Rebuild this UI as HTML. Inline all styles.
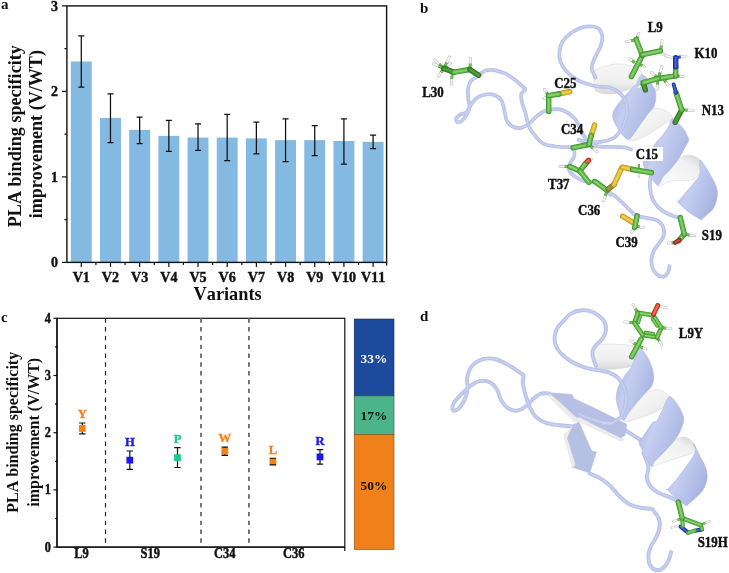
<!DOCTYPE html>
<html><head><meta charset="utf-8"><title>Figure</title>
<style>
html,body{margin:0;padding:0;background:#fff;}
body{width:729px;height:573px;overflow:hidden;}
svg{display:block;}
text{font-family:"Liberation Serif","Times New Roman",serif;font-weight:bold;fill:#111;font-kerning:none;}
</style></head><body>
<svg width="729" height="573" viewBox="0 0 729 573">
<rect width="729" height="573" fill="#fff"/>

<g id="panel-a">
<text x="1" y="9.3" font-size="15">a</text>
<rect x="70.85" y="61.47" width="20.9" height="200.93" fill="#84b9e1"/>
<rect x="100.03" y="117.90" width="20.9" height="144.50" fill="#84b9e1"/>
<rect x="129.21" y="129.87" width="20.9" height="132.53" fill="#84b9e1"/>
<rect x="158.39" y="135.86" width="20.9" height="126.54" fill="#84b9e1"/>
<rect x="187.57" y="137.57" width="20.9" height="124.83" fill="#84b9e1"/>
<rect x="216.75" y="137.57" width="20.9" height="124.83" fill="#84b9e1"/>
<rect x="245.93" y="138.42" width="20.9" height="123.97" fill="#84b9e1"/>
<rect x="275.11" y="140.13" width="20.9" height="122.26" fill="#84b9e1"/>
<rect x="304.29" y="140.13" width="20.9" height="122.26" fill="#84b9e1"/>
<rect x="333.47" y="140.99" width="20.9" height="121.41" fill="#84b9e1"/>
<rect x="362.65" y="141.84" width="20.9" height="120.56" fill="#84b9e1"/>
<path d="M81.30 87.12V35.82M78.30 87.12h6M78.30 35.82h6" stroke="#111" stroke-width="1.25" fill="none"/>
<path d="M110.48 142.70V93.96M107.48 142.70h6M107.48 93.96h6" stroke="#111" stroke-width="1.25" fill="none"/>
<path d="M139.66 143.56V117.05M136.66 143.56h6M136.66 117.05h6" stroke="#111" stroke-width="1.25" fill="none"/>
<path d="M168.84 151.25V120.47M165.84 151.25h6M165.84 120.47h6" stroke="#111" stroke-width="1.25" fill="none"/>
<path d="M198.02 150.39V123.89M195.02 150.39h6M195.02 123.89h6" stroke="#111" stroke-width="1.25" fill="none"/>
<path d="M227.20 160.65V114.48M224.20 160.65h6M224.20 114.48h6" stroke="#111" stroke-width="1.25" fill="none"/>
<path d="M256.38 153.81V122.18M253.38 153.81h6M253.38 122.18h6" stroke="#111" stroke-width="1.25" fill="none"/>
<path d="M285.56 161.51V118.76M282.56 161.51h6M282.56 118.76h6" stroke="#111" stroke-width="1.25" fill="none"/>
<path d="M314.74 155.52V125.60M311.74 155.52h6M311.74 125.60h6" stroke="#111" stroke-width="1.25" fill="none"/>
<path d="M343.92 164.07V118.76M340.92 164.07h6M340.92 118.76h6" stroke="#111" stroke-width="1.25" fill="none"/>
<path d="M373.10 148.68V135.00M370.10 148.68h6M370.10 135.00h6" stroke="#111" stroke-width="1.25" fill="none"/>
<rect x="66.9" y="5.90" width="319.70000000000005" height="256.50" fill="none" stroke="#111" stroke-width="1.4"/>
<path d="M386.6 262.4v3" stroke="#111" stroke-width="1.2"/>
<path d="M66.9 262.40h-5" stroke="#111" stroke-width="1.2"/>
<text transform="translate(57.90,267.30) scale(1,1.1)" font-size="14" text-anchor="end" style="stroke:#111;stroke-width:0.4px">0</text>
<path d="M66.9 176.90h-5" stroke="#111" stroke-width="1.2"/>
<text transform="translate(57.90,181.80) scale(1,1.1)" font-size="14" text-anchor="end" style="stroke:#111;stroke-width:0.4px">1</text>
<path d="M66.9 91.40h-5" stroke="#111" stroke-width="1.2"/>
<text transform="translate(57.90,96.30) scale(1,1.1)" font-size="14" text-anchor="end" style="stroke:#111;stroke-width:0.4px">2</text>
<path d="M66.9 5.90h-5" stroke="#111" stroke-width="1.2"/>
<text transform="translate(57.90,10.80) scale(1,1.1)" font-size="14" text-anchor="end" style="stroke:#111;stroke-width:0.4px">3</text>
<path d="M66.9 219.65h-2.5" stroke="#111" stroke-width="1.2"/>
<path d="M66.9 134.15h-2.5" stroke="#111" stroke-width="1.2"/>
<path d="M66.9 48.65h-2.5" stroke="#111" stroke-width="1.2"/>
<path d="M81.30 262.4v4.5" stroke="#111" stroke-width="1.2"/>
<text transform="translate(81.30,282.20) scale(1,1.1)" font-size="14.1" text-anchor="middle" style="stroke:#111;stroke-width:0.4px">V1</text>
<path d="M110.48 262.4v4.5" stroke="#111" stroke-width="1.2"/>
<text transform="translate(110.48,282.20) scale(1,1.1)" font-size="14.1" text-anchor="middle" style="stroke:#111;stroke-width:0.4px">V2</text>
<path d="M139.66 262.4v4.5" stroke="#111" stroke-width="1.2"/>
<text transform="translate(139.66,282.20) scale(1,1.1)" font-size="14.1" text-anchor="middle" style="stroke:#111;stroke-width:0.4px">V3</text>
<path d="M168.84 262.4v4.5" stroke="#111" stroke-width="1.2"/>
<text transform="translate(168.84,282.20) scale(1,1.1)" font-size="14.1" text-anchor="middle" style="stroke:#111;stroke-width:0.4px">V4</text>
<path d="M198.02 262.4v4.5" stroke="#111" stroke-width="1.2"/>
<text transform="translate(198.02,282.20) scale(1,1.1)" font-size="14.1" text-anchor="middle" style="stroke:#111;stroke-width:0.4px">V5</text>
<path d="M227.20 262.4v4.5" stroke="#111" stroke-width="1.2"/>
<text transform="translate(227.20,282.20) scale(1,1.1)" font-size="14.1" text-anchor="middle" style="stroke:#111;stroke-width:0.4px">V6</text>
<path d="M256.38 262.4v4.5" stroke="#111" stroke-width="1.2"/>
<text transform="translate(256.38,282.20) scale(1,1.1)" font-size="14.1" text-anchor="middle" style="stroke:#111;stroke-width:0.4px">V7</text>
<path d="M285.56 262.4v4.5" stroke="#111" stroke-width="1.2"/>
<text transform="translate(285.56,282.20) scale(1,1.1)" font-size="14.1" text-anchor="middle" style="stroke:#111;stroke-width:0.4px">V8</text>
<path d="M314.74 262.4v4.5" stroke="#111" stroke-width="1.2"/>
<text transform="translate(314.74,282.20) scale(1,1.1)" font-size="14.1" text-anchor="middle" style="stroke:#111;stroke-width:0.4px">V9</text>
<path d="M343.92 262.4v4.5" stroke="#111" stroke-width="1.2"/>
<text transform="translate(343.92,282.20) scale(1,1.1)" font-size="14.1" text-anchor="middle" style="stroke:#111;stroke-width:0.4px">V10</text>
<path d="M373.10 262.4v4.5" stroke="#111" stroke-width="1.2"/>
<text transform="translate(373.10,282.20) scale(1,1.1)" font-size="14.1" text-anchor="middle" style="stroke:#111;stroke-width:0.4px">V11</text>
<path d="M95.89 262.4v2.5" stroke="#111" stroke-width="1.2"/>
<path d="M125.07 262.4v2.5" stroke="#111" stroke-width="1.2"/>
<path d="M154.25 262.4v2.5" stroke="#111" stroke-width="1.2"/>
<path d="M183.43 262.4v2.5" stroke="#111" stroke-width="1.2"/>
<path d="M212.61 262.4v2.5" stroke="#111" stroke-width="1.2"/>
<path d="M241.79 262.4v2.5" stroke="#111" stroke-width="1.2"/>
<path d="M270.97 262.4v2.5" stroke="#111" stroke-width="1.2"/>
<path d="M300.15 262.4v2.5" stroke="#111" stroke-width="1.2"/>
<path d="M329.33 262.4v2.5" stroke="#111" stroke-width="1.2"/>
<path d="M358.51 262.4v2.5" stroke="#111" stroke-width="1.2"/>
<text x="227.6" y="300" font-size="18.3" text-anchor="middle">Variants</text>
<text transform="translate(20.5,136.2) rotate(-90)" font-size="18.1" text-anchor="middle">PLA binding specificity</text>
<text transform="translate(41.5,134.2) rotate(-90)" font-size="18.1" text-anchor="middle">improvement (V/WT)</text>
</g>
<g id="panel-c">
<text x="1" y="321.5" font-size="15">c</text>
<rect x="57.0" y="318.30" width="287.8" height="228.80" fill="none" stroke="#111" stroke-width="1.2"/>
<path d="M57.0 318.30V547.1H344.8" fill="none" stroke="#111" stroke-width="1.4"/>
<path d="M105.5 318.30V547.1" stroke="#222" stroke-width="1.2" stroke-dasharray="4.4 4.4" fill="none"/>
<path d="M201 318.30V547.1" stroke="#6a6a6a" stroke-width="1.8" stroke-dasharray="4.4 4.4" fill="none"/>
<path d="M248.9 318.30V547.1" stroke="#6a6a6a" stroke-width="1.8" stroke-dasharray="4.4 4.4" fill="none"/>
<path d="M57.0 547.10h-3.5" stroke="#111" stroke-width="1.2"/>
<text transform="translate(51.00,551.50) scale(1,1.1)" font-size="12.3" text-anchor="end" style="stroke:#111;stroke-width:0.4px">0</text>
<path d="M57.0 489.90h-3.5" stroke="#111" stroke-width="1.2"/>
<text transform="translate(51.00,494.30) scale(1,1.1)" font-size="12.3" text-anchor="end" style="stroke:#111;stroke-width:0.4px">1</text>
<path d="M57.0 432.70h-3.5" stroke="#111" stroke-width="1.2"/>
<text transform="translate(51.00,437.10) scale(1,1.1)" font-size="12.3" text-anchor="end" style="stroke:#111;stroke-width:0.4px">2</text>
<path d="M57.0 375.50h-3.5" stroke="#111" stroke-width="1.2"/>
<text transform="translate(51.00,379.90) scale(1,1.1)" font-size="12.3" text-anchor="end" style="stroke:#111;stroke-width:0.4px">3</text>
<path d="M57.0 318.30h-3.5" stroke="#111" stroke-width="1.2"/>
<text transform="translate(51.00,322.70) scale(1,1.1)" font-size="12.3" text-anchor="end" style="stroke:#111;stroke-width:0.4px">4</text>
<path d="M57.0 518.50h-2" stroke="#111" stroke-width="1.2"/>
<path d="M57.0 461.30h-2" stroke="#111" stroke-width="1.2"/>
<path d="M57.0 404.10h-2" stroke="#111" stroke-width="1.2"/>
<path d="M57.0 346.90h-2" stroke="#111" stroke-width="1.2"/>
<path d="M344.8 547.1v4" stroke="#111" stroke-width="1.2"/>
<path d="M82.3 433.84V422.98" stroke="#111" stroke-width="1.2" fill="none"/>
<rect x="78.89999999999999" y="425.01" width="6.8" height="6.8" fill="#f28118"/>
<path d="M79.1 433.84h6.4M79.1 422.98h6.4" stroke="#111" stroke-width="1.2" fill="none"/>
<text transform="translate(82.30,417.98) scale(1,1.0)" font-size="12.6" text-anchor="middle" style="fill:#f28118;stroke:#f28118;stroke-width:0.4px">Y</text>
<path d="M129.8 469.31V451.00" stroke="#111" stroke-width="1.2" fill="none"/>
<rect x="126.4" y="456.76" width="6.8" height="6.8" fill="#1a1aee"/>
<path d="M126.60000000000001 469.31h6.4M126.60000000000001 451.00h6.4" stroke="#111" stroke-width="1.2" fill="none"/>
<text transform="translate(129.80,446.00) scale(1,1.0)" font-size="12.6" text-anchor="middle" style="fill:#1a1aee;stroke:#1a1aee;stroke-width:0.4px">H</text>
<path d="M177.5 467.48V447.69" stroke="#111" stroke-width="1.2" fill="none"/>
<rect x="174.1" y="454.18" width="6.8" height="6.8" fill="#1ecb8c"/>
<path d="M174.3 467.48h6.4M174.3 447.69h6.4" stroke="#111" stroke-width="1.2" fill="none"/>
<text transform="translate(177.50,442.69) scale(1,1.0)" font-size="12.6" text-anchor="middle" style="fill:#1ecb8c;stroke:#1ecb8c;stroke-width:0.4px">P</text>
<path d="M224.8 455.35V447.11" stroke="#111" stroke-width="1.2" fill="none"/>
<rect x="221.4" y="447.83" width="6.8" height="6.8" fill="#f28118"/>
<path d="M221.60000000000002 455.35h6.4M221.60000000000002 447.11h6.4" stroke="#111" stroke-width="1.2" fill="none"/>
<text transform="translate(224.80,442.11) scale(1,1.0)" font-size="12.6" text-anchor="middle" style="fill:#f28118;stroke:#f28118;stroke-width:0.4px">W</text>
<path d="M272.9 464.90V458.27" stroke="#111" stroke-width="1.2" fill="none"/>
<rect x="269.5" y="458.19" width="6.8" height="6.8" fill="#f28118"/>
<path d="M269.7 464.90h6.4M269.7 458.27h6.4" stroke="#111" stroke-width="1.2" fill="none"/>
<text transform="translate(272.90,454.27) scale(1,1.0)" font-size="12.6" text-anchor="middle" style="fill:#f28118;stroke:#f28118;stroke-width:0.4px">L</text>
<path d="M320 464.16V449.63" stroke="#111" stroke-width="1.2" fill="none"/>
<rect x="316.6" y="453.50" width="6.8" height="6.8" fill="#1a1aee"/>
<path d="M316.8 464.16h6.4M316.8 449.63h6.4" stroke="#111" stroke-width="1.2" fill="none"/>
<text transform="translate(320.00,444.63) scale(1,1.0)" font-size="12.6" text-anchor="middle" style="fill:#1a1aee;stroke:#1a1aee;stroke-width:0.4px">R</text>
<text transform="translate(81.50,558.40) scale(1,1.1)" font-size="12.5" text-anchor="middle" style="stroke:#111;stroke-width:0.4px">L9</text>
<text transform="translate(150.20,558.40) scale(1,1.1)" font-size="12.5" text-anchor="middle" style="stroke:#111;stroke-width:0.4px">S19</text>
<text transform="translate(224.80,558.40) scale(1,1.1)" font-size="12.5" text-anchor="middle" style="stroke:#111;stroke-width:0.4px">C34</text>
<text transform="translate(293.80,558.40) scale(1,1.1)" font-size="12.5" text-anchor="middle" style="stroke:#111;stroke-width:0.4px">C36</text>
<text transform="translate(18.1,432.3) rotate(-90)" font-size="16" text-anchor="middle">PLA binding specificity</text>
<text transform="translate(38.6,432.3) rotate(-90)" font-size="16" text-anchor="middle">improvement (V/WT)</text>
<rect x="354.2" y="319" width="39.8" height="76.9" fill="#1c4a9c" stroke="#1a2a50" stroke-width="0.6"/>
<rect x="354.2" y="395.9" width="39.8" height="38.5" fill="#4cb48a" stroke="#2c5a46" stroke-width="0.6"/>
<rect x="354.2" y="434.4" width="39.8" height="115.1" fill="#f08019" stroke="#7a4a1a" stroke-width="0.6"/>
<text x="374" y="363" font-size="13.4" text-anchor="middle" style="fill:#fff">33%</text>
<text x="374" y="420.3" font-size="13.4" text-anchor="middle">17%</text>
<text x="374" y="490.3" font-size="13.4" text-anchor="middle">50%</text>
</g>
<g id="panel-b">
<text x="420" y="12.5" font-size="15">b</text>
<defs><linearGradient id="gw1" x1="0" y1="0" x2="0" y2="1"><stop offset="0" stop-color="#f7f7f7"/><stop offset="0.6" stop-color="#efefef"/><stop offset="1" stop-color="#d9d9d9"/></linearGradient><linearGradient id="gw2" x1="0" y1="0" x2="1" y2="1"><stop offset="0" stop-color="#fafafa"/><stop offset="0.6" stop-color="#f0f0f0"/><stop offset="1" stop-color="#d6d6d6"/></linearGradient><linearGradient id="gw3" x1="0" y1="1" x2="1" y2="0"><stop offset="0" stop-color="#fbfbfb"/><stop offset="0.7" stop-color="#f1f1f1"/><stop offset="1" stop-color="#cfcfcf"/></linearGradient><linearGradient id="gb1" x1="0" y1="0.2" x2="1" y2="0.8"><stop offset="0" stop-color="#a6b2df"/><stop offset="0.35" stop-color="#c6cef0"/><stop offset="0.7" stop-color="#b3bee8"/><stop offset="1" stop-color="#a0addb"/></linearGradient></defs>
<path d="M593.2 72.3C594.5 70.0 597.9 68.8 601.5 67.4C605.0 66.0 610.2 64.5 614.6 64.1C619.0 63.7 624.0 64.1 627.8 64.9C631.6 65.8 635.3 67.5 637.7 69.1C640.0 70.6 642.1 71.4 641.8 74.0C641.5 76.6 638.1 82.2 636.0 84.7C634.0 87.2 632.5 87.4 629.4 88.8C626.4 90.2 622.0 92.1 617.9 92.9C613.8 93.7 608.5 94.2 604.8 93.7C601.0 93.3 597.5 92.5 595.7 90.5C593.9 88.4 594.5 84.4 594.1 81.4C593.6 78.4 592.0 74.7 593.2 72.3Z" fill="url(#gw1)" stroke="#d0d0d0" stroke-width="0.5" opacity="1"/>
<path d="M477.9 76.3C476.7 77.1 472.7 78.8 471.1 80.9C469.4 82.9 468.6 85.8 468.1 88.8C467.7 91.8 468.1 95.8 468.3 99.0C468.6 102.2 469.8 105.4 469.5 108.1C469.2 110.7 467.8 112.8 466.5 114.9C465.3 117.0 463.5 119.4 462.0 120.6C460.5 121.8 458.4 122.4 457.4 122.2C456.5 121.9 455.9 120.2 456.3 119.0C456.7 117.8 458.0 116.0 459.7 114.9C461.4 113.8 464.6 113.9 466.5 112.2C468.4 110.5 469.4 107.1 471.1 104.7C472.8 102.3 474.3 99.6 476.7 97.9C479.2 96.2 482.8 94.9 485.8 94.5C488.8 94.0 492.3 94.2 494.9 95.2C497.5 96.1 499.7 97.6 501.3 100.1C502.8 102.7 503.5 107.0 504.4 110.4C505.3 113.8 505.5 117.9 506.7 120.6C507.9 123.2 509.7 125.0 511.9 126.2C514.1 127.5 517.1 128.4 519.9 128.1C522.6 127.7 525.8 125.8 528.5 124.0C531.1 122.2 533.4 119.1 535.8 117.2C538.1 115.2 540.4 113.4 542.6 112.2C544.7 111.0 546.0 110.4 548.7 109.9C551.3 109.4 555.3 108.8 558.4 109.2C561.6 109.7 564.7 110.9 567.5 112.6C570.4 114.3 573.4 116.8 575.5 119.4C577.6 122.1 578.4 125.5 580.0 128.5C581.6 131.5 583.0 135.0 585.0 137.6C587.0 140.2 589.4 142.8 592.2 144.3C595.0 145.8 598.3 146.4 602.1 146.8C605.9 147.2 611.4 146.7 615.2 146.8C619.0 146.9 622.4 147.1 625.0 147.5C627.6 147.9 630.0 149.2 631.0 149.5" fill="none" stroke="#b6bfe7" stroke-width="3.7" stroke-linecap="round" stroke-linejoin="round" opacity="1"/><path d="M477.9 76.3C476.7 77.1 472.7 78.8 471.1 80.9C469.4 82.9 468.6 85.8 468.1 88.8C467.7 91.8 468.1 95.8 468.3 99.0C468.6 102.2 469.8 105.4 469.5 108.1C469.2 110.7 467.8 112.8 466.5 114.9C465.3 117.0 463.5 119.4 462.0 120.6C460.5 121.8 458.4 122.4 457.4 122.2C456.5 121.9 455.9 120.2 456.3 119.0C456.7 117.8 458.0 116.0 459.7 114.9C461.4 113.8 464.6 113.9 466.5 112.2C468.4 110.5 469.4 107.1 471.1 104.7C472.8 102.3 474.3 99.6 476.7 97.9C479.2 96.2 482.8 94.9 485.8 94.5C488.8 94.0 492.3 94.2 494.9 95.2C497.5 96.1 499.7 97.6 501.3 100.1C502.8 102.7 503.5 107.0 504.4 110.4C505.3 113.8 505.5 117.9 506.7 120.6C507.9 123.2 509.7 125.0 511.9 126.2C514.1 127.5 517.1 128.4 519.9 128.1C522.6 127.7 525.8 125.8 528.5 124.0C531.1 122.2 533.4 119.1 535.8 117.2C538.1 115.2 540.4 113.4 542.6 112.2C544.7 111.0 546.0 110.4 548.7 109.9C551.3 109.4 555.3 108.8 558.4 109.2C561.6 109.7 564.7 110.9 567.5 112.6C570.4 114.3 573.4 116.8 575.5 119.4C577.6 122.1 578.4 125.5 580.0 128.5C581.6 131.5 583.0 135.0 585.0 137.6C587.0 140.2 589.4 142.8 592.2 144.3C595.0 145.8 598.3 146.4 602.1 146.8C605.9 147.2 611.4 146.7 615.2 146.8C619.0 146.9 622.4 147.1 625.0 147.5C627.6 147.9 630.0 149.2 631.0 149.5" fill="none" stroke="#bdc6ea" stroke-width="2.44" stroke-linecap="round" stroke-linejoin="round"/><path d="M477.9 76.3C476.7 77.1 472.7 78.8 471.1 80.9C469.4 82.9 468.6 85.8 468.1 88.8C467.7 91.8 468.1 95.8 468.3 99.0C468.6 102.2 469.8 105.4 469.5 108.1C469.2 110.7 467.8 112.8 466.5 114.9C465.3 117.0 463.5 119.4 462.0 120.6C460.5 121.8 458.4 122.4 457.4 122.2C456.5 121.9 455.9 120.2 456.3 119.0C456.7 117.8 458.0 116.0 459.7 114.9C461.4 113.8 464.6 113.9 466.5 112.2C468.4 110.5 469.4 107.1 471.1 104.7C472.8 102.3 474.3 99.6 476.7 97.9C479.2 96.2 482.8 94.9 485.8 94.5C488.8 94.0 492.3 94.2 494.9 95.2C497.5 96.1 499.7 97.6 501.3 100.1C502.8 102.7 503.5 107.0 504.4 110.4C505.3 113.8 505.5 117.9 506.7 120.6C507.9 123.2 509.7 125.0 511.9 126.2C514.1 127.5 517.1 128.4 519.9 128.1C522.6 127.7 525.8 125.8 528.5 124.0C531.1 122.2 533.4 119.1 535.8 117.2C538.1 115.2 540.4 113.4 542.6 112.2C544.7 111.0 546.0 110.4 548.7 109.9C551.3 109.4 555.3 108.8 558.4 109.2C561.6 109.7 564.7 110.9 567.5 112.6C570.4 114.3 573.4 116.8 575.5 119.4C577.6 122.1 578.4 125.5 580.0 128.5C581.6 131.5 583.0 135.0 585.0 137.6C587.0 140.2 589.4 142.8 592.2 144.3C595.0 145.8 598.3 146.4 602.1 146.8C605.9 147.2 611.4 146.7 615.2 146.8C619.0 146.9 622.4 147.1 625.0 147.5C627.6 147.9 630.0 149.2 631.0 149.5" fill="none" stroke="#cad2f0" stroke-width="1.11" stroke-linecap="round" stroke-linejoin="round"/>
<path d="M478.4 74.9C479.7 74.2 483.2 71.2 485.8 70.5C488.4 69.7 490.8 69.6 494.1 70.1C497.4 70.7 502.0 72.0 505.6 73.7C509.2 75.4 512.6 78.1 515.5 80.3C518.4 82.5 521.2 85.4 522.9 86.9C524.5 88.4 525.6 88.1 525.3 89.4C525.1 90.6 521.8 92.1 521.2 94.3C520.7 96.5 521.4 99.5 522.1 102.6C522.7 105.6 524.3 108.6 525.3 112.4C526.4 116.3 527.3 122.0 528.6 125.6C530.0 129.2 531.3 130.9 533.6 133.8C535.9 136.8 539.2 141.2 542.6 143.3C545.9 145.3 549.7 145.6 553.9 146.2C558.1 146.9 563.4 147.1 567.5 147.1C571.7 147.2 577.0 146.7 578.9 146.7" fill="none" stroke="#b6bfe7" stroke-width="3.7" stroke-linecap="round" stroke-linejoin="round" opacity="1"/><path d="M478.4 74.9C479.7 74.2 483.2 71.2 485.8 70.5C488.4 69.7 490.8 69.6 494.1 70.1C497.4 70.7 502.0 72.0 505.6 73.7C509.2 75.4 512.6 78.1 515.5 80.3C518.4 82.5 521.2 85.4 522.9 86.9C524.5 88.4 525.6 88.1 525.3 89.4C525.1 90.6 521.8 92.1 521.2 94.3C520.7 96.5 521.4 99.5 522.1 102.6C522.7 105.6 524.3 108.6 525.3 112.4C526.4 116.3 527.3 122.0 528.6 125.6C530.0 129.2 531.3 130.9 533.6 133.8C535.9 136.8 539.2 141.2 542.6 143.3C545.9 145.3 549.7 145.6 553.9 146.2C558.1 146.9 563.4 147.1 567.5 147.1C571.7 147.2 577.0 146.7 578.9 146.7" fill="none" stroke="#bdc6ea" stroke-width="2.44" stroke-linecap="round" stroke-linejoin="round"/><path d="M478.4 74.9C479.7 74.2 483.2 71.2 485.8 70.5C488.4 69.7 490.8 69.6 494.1 70.1C497.4 70.7 502.0 72.0 505.6 73.7C509.2 75.4 512.6 78.1 515.5 80.3C518.4 82.5 521.2 85.4 522.9 86.9C524.5 88.4 525.6 88.1 525.3 89.4C525.1 90.6 521.8 92.1 521.2 94.3C520.7 96.5 521.4 99.5 522.1 102.6C522.7 105.6 524.3 108.6 525.3 112.4C526.4 116.3 527.3 122.0 528.6 125.6C530.0 129.2 531.3 130.9 533.6 133.8C535.9 136.8 539.2 141.2 542.6 143.3C545.9 145.3 549.7 145.6 553.9 146.2C558.1 146.9 563.4 147.1 567.5 147.1C571.7 147.2 577.0 146.7 578.9 146.7" fill="none" stroke="#cad2f0" stroke-width="1.11" stroke-linecap="round" stroke-linejoin="round"/>
<path d="M574.2 148.4C574.2 149.7 574.9 153.7 574.2 156.3C573.4 159.0 570.4 161.8 569.7 164.3C568.9 166.7 568.7 169.0 569.7 171.1C570.6 173.1 572.9 175.0 575.3 176.7C577.8 178.4 581.0 180.3 584.4 181.3C587.8 182.2 592.0 180.9 595.8 182.4C599.5 183.9 604.6 188.3 607.1 190.4C609.6 192.4 610.1 194.6 610.5 194.9C610.9 195.2 607.7 191.0 609.4 192.0C611.1 193.0 617.3 198.0 620.7 201.1C624.1 204.1 627.2 207.7 629.8 210.1C632.5 212.6 633.6 214.5 636.6 215.8C639.7 217.1 644.6 217.3 648.0 218.1C651.4 218.8 654.6 219.0 657.1 220.4C659.5 221.7 661.6 223.6 662.7 226.0C663.9 228.5 664.4 232.3 663.9 235.1C663.3 237.9 661.0 240.4 659.3 243.1C657.6 245.7 655.0 248.0 653.7 251.0C652.3 254.0 651.4 258.0 651.4 261.2C651.4 264.4 652.3 267.8 653.7 270.3C655.0 272.7 657.4 275.0 659.3 276.0C661.2 276.9 663.5 276.7 665.0 276.0C666.5 275.2 667.6 273.1 668.4 271.4C669.2 269.8 669.3 267.1 669.5 266.2" fill="none" stroke="#b6bfe7" stroke-width="3.7" stroke-linecap="round" stroke-linejoin="round" opacity="1"/><path d="M574.2 148.4C574.2 149.7 574.9 153.7 574.2 156.3C573.4 159.0 570.4 161.8 569.7 164.3C568.9 166.7 568.7 169.0 569.7 171.1C570.6 173.1 572.9 175.0 575.3 176.7C577.8 178.4 581.0 180.3 584.4 181.3C587.8 182.2 592.0 180.9 595.8 182.4C599.5 183.9 604.6 188.3 607.1 190.4C609.6 192.4 610.1 194.6 610.5 194.9C610.9 195.2 607.7 191.0 609.4 192.0C611.1 193.0 617.3 198.0 620.7 201.1C624.1 204.1 627.2 207.7 629.8 210.1C632.5 212.6 633.6 214.5 636.6 215.8C639.7 217.1 644.6 217.3 648.0 218.1C651.4 218.8 654.6 219.0 657.1 220.4C659.5 221.7 661.6 223.6 662.7 226.0C663.9 228.5 664.4 232.3 663.9 235.1C663.3 237.9 661.0 240.4 659.3 243.1C657.6 245.7 655.0 248.0 653.7 251.0C652.3 254.0 651.4 258.0 651.4 261.2C651.4 264.4 652.3 267.8 653.7 270.3C655.0 272.7 657.4 275.0 659.3 276.0C661.2 276.9 663.5 276.7 665.0 276.0C666.5 275.2 667.6 273.1 668.4 271.4C669.2 269.8 669.3 267.1 669.5 266.2" fill="none" stroke="#bdc6ea" stroke-width="2.44" stroke-linecap="round" stroke-linejoin="round"/><path d="M574.2 148.4C574.2 149.7 574.9 153.7 574.2 156.3C573.4 159.0 570.4 161.8 569.7 164.3C568.9 166.7 568.7 169.0 569.7 171.1C570.6 173.1 572.9 175.0 575.3 176.7C577.8 178.4 581.0 180.3 584.4 181.3C587.8 182.2 592.0 180.9 595.8 182.4C599.5 183.9 604.6 188.3 607.1 190.4C609.6 192.4 610.1 194.6 610.5 194.9C610.9 195.2 607.7 191.0 609.4 192.0C611.1 193.0 617.3 198.0 620.7 201.1C624.1 204.1 627.2 207.7 629.8 210.1C632.5 212.6 633.6 214.5 636.6 215.8C639.7 217.1 644.6 217.3 648.0 218.1C651.4 218.8 654.6 219.0 657.1 220.4C659.5 221.7 661.6 223.6 662.7 226.0C663.9 228.5 664.4 232.3 663.9 235.1C663.3 237.9 661.0 240.4 659.3 243.1C657.6 245.7 655.0 248.0 653.7 251.0C652.3 254.0 651.4 258.0 651.4 261.2C651.4 264.4 652.3 267.8 653.7 270.3C655.0 272.7 657.4 275.0 659.3 276.0C661.2 276.9 663.5 276.7 665.0 276.0C666.5 275.2 667.6 273.1 668.4 271.4C669.2 269.8 669.3 267.1 669.5 266.2" fill="none" stroke="#cad2f0" stroke-width="1.11" stroke-linecap="round" stroke-linejoin="round"/>
<path d="M653.4 172.5C652.9 173.6 650.7 176.6 650.2 179.4C649.6 182.2 649.7 186.0 650.2 189.3C650.6 192.6 651.2 196.1 652.6 199.1C654.0 202.2 656.1 205.0 658.4 207.4C660.7 209.7 663.9 211.6 666.6 213.1C669.4 214.6 672.4 215.6 674.8 216.4C677.3 217.2 680.3 217.8 681.4 218.1" fill="none" stroke="#b6bfe7" stroke-width="3.7" stroke-linecap="round" stroke-linejoin="round" opacity="1"/><path d="M653.4 172.5C652.9 173.6 650.7 176.6 650.2 179.4C649.6 182.2 649.7 186.0 650.2 189.3C650.6 192.6 651.2 196.1 652.6 199.1C654.0 202.2 656.1 205.0 658.4 207.4C660.7 209.7 663.9 211.6 666.6 213.1C669.4 214.6 672.4 215.6 674.8 216.4C677.3 217.2 680.3 217.8 681.4 218.1" fill="none" stroke="#bdc6ea" stroke-width="2.44" stroke-linecap="round" stroke-linejoin="round"/><path d="M653.4 172.5C652.9 173.6 650.7 176.6 650.2 179.4C649.6 182.2 649.7 186.0 650.2 189.3C650.6 192.6 651.2 196.1 652.6 199.1C654.0 202.2 656.1 205.0 658.4 207.4C660.7 209.7 663.9 211.6 666.6 213.1C669.4 214.6 672.4 215.6 674.8 216.4C677.3 217.2 680.3 217.8 681.4 218.1" fill="none" stroke="#cad2f0" stroke-width="1.11" stroke-linecap="round" stroke-linejoin="round"/>
<path d="M627.0 139.0C627.2 139.6 630.1 140.9 632.7 140.7C635.3 140.4 639.0 139.0 642.6 137.4C646.2 135.7 650.6 133.0 654.1 130.8C657.7 128.6 661.0 126.3 664.0 124.2C667.0 122.1 671.4 120.4 672.2 118.4C673.1 116.5 670.6 114.2 669.0 112.7C667.3 111.2 664.8 110.1 662.4 109.4C659.9 108.7 656.6 107.7 654.1 108.6C651.7 109.4 650.0 111.4 647.6 114.3C645.1 117.2 642.1 122.0 639.3 125.8C636.6 129.7 633.1 135.2 631.1 137.4C629.0 139.6 626.7 138.5 627.0 139.0Z" fill="url(#gw2)" stroke="#d4d4d4" stroke-width="0.5" opacity="1"/>
<path d="M658.3 185.2C658.5 183.8 661.4 179.1 663.2 176.6C665.0 174.2 667.3 172.8 669.3 170.5C671.3 168.3 673.4 165.4 675.4 163.2C677.4 161.0 679.5 158.4 681.5 157.1C683.5 155.8 685.4 155.4 687.6 155.3C689.9 155.2 692.9 155.7 694.9 156.5C697.0 157.3 698.8 158.4 699.8 160.1C700.8 161.9 701.1 164.5 701.1 166.9C701.1 169.2 701.1 172.2 699.8 174.2C698.6 176.2 696.0 178.0 693.7 179.1C691.5 180.2 689.2 180.7 686.4 180.9C683.5 181.1 679.7 180.1 676.6 180.3C673.6 180.5 670.5 181.3 668.1 182.1C665.6 182.9 663.6 184.7 662.0 185.2C660.4 185.7 658.1 186.6 658.3 185.2Z" fill="url(#gw3)" stroke="#d4d4d4" stroke-width="0.5" opacity="1"/>
<path d="M636.0 84.7C637.5 82.6 639.3 75.1 641.8 74.8C644.3 74.5 648.5 80.0 650.8 83.0C653.2 86.1 655.2 89.1 655.8 92.9C656.3 96.8 655.5 102.5 654.1 106.1C652.8 109.7 650.0 111.0 647.6 114.3C645.1 117.6 642.1 122.0 639.3 125.8C636.6 129.7 633.1 135.2 631.1 137.4C629.0 139.6 628.8 139.8 627.0 139.0C625.2 138.2 622.6 135.4 620.4 132.4C618.2 129.4 615.0 124.2 613.8 120.9C612.6 117.6 612.3 115.4 613.0 112.7C613.7 109.9 615.7 107.5 617.9 104.4C620.1 101.4 623.7 97.4 626.2 94.6C628.6 91.7 631.1 88.8 632.7 87.2C634.4 85.5 634.5 86.7 636.0 84.7Z" fill="url(#gb1)" stroke="#a9b4de" stroke-width="0.5" opacity="1"/>
<path d="M595.7 77.5C595.0 75.8 591.7 70.9 591.6 67.6C591.5 64.3 593.4 61.3 594.9 57.7C596.4 54.2 599.4 49.8 600.7 46.2C601.9 42.6 602.6 39.2 602.3 36.3C602.0 33.5 600.7 30.6 599.0 28.9C597.4 27.3 595.2 26.7 592.4 26.5C589.7 26.2 586.1 26.2 582.6 27.3C579.0 28.4 574.3 30.7 571.0 33.0C567.7 35.4 564.7 38.3 562.8 41.3C560.9 44.3 559.9 47.9 559.5 51.2C559.1 54.4 559.2 57.7 560.3 61.0C561.4 64.3 563.5 67.9 566.1 70.9C568.7 73.9 572.7 77.0 576.0 79.1C579.3 81.2 582.3 82.4 585.8 83.6C589.4 84.8 593.5 85.9 597.3 86.5C601.2 87.1 605.3 86.4 608.9 87.3C612.4 88.3 616.1 90.3 618.7 92.3C621.4 94.2 623.2 96.7 624.5 98.8C625.8 101.0 626.1 103.0 626.5 105.3C626.9 107.6 627.3 109.8 627.0 112.7C626.6 115.6 625.6 119.5 624.5 122.6C623.4 125.6 622.0 128.3 620.4 130.8C618.7 133.3 617.0 135.7 614.6 137.4C612.3 139.0 609.7 139.8 606.4 140.7C603.1 141.5 598.4 142.2 594.9 142.3C591.3 142.4 587.7 141.9 585.0 141.5C582.3 141.1 579.5 140.1 578.4 139.8" fill="none" stroke="#b6bfe7" stroke-width="3.7" stroke-linecap="round" stroke-linejoin="round" opacity="1"/><path d="M595.7 77.5C595.0 75.8 591.7 70.9 591.6 67.6C591.5 64.3 593.4 61.3 594.9 57.7C596.4 54.2 599.4 49.8 600.7 46.2C601.9 42.6 602.6 39.2 602.3 36.3C602.0 33.5 600.7 30.6 599.0 28.9C597.4 27.3 595.2 26.7 592.4 26.5C589.7 26.2 586.1 26.2 582.6 27.3C579.0 28.4 574.3 30.7 571.0 33.0C567.7 35.4 564.7 38.3 562.8 41.3C560.9 44.3 559.9 47.9 559.5 51.2C559.1 54.4 559.2 57.7 560.3 61.0C561.4 64.3 563.5 67.9 566.1 70.9C568.7 73.9 572.7 77.0 576.0 79.1C579.3 81.2 582.3 82.4 585.8 83.6C589.4 84.8 593.5 85.9 597.3 86.5C601.2 87.1 605.3 86.4 608.9 87.3C612.4 88.3 616.1 90.3 618.7 92.3C621.4 94.2 623.2 96.7 624.5 98.8C625.8 101.0 626.1 103.0 626.5 105.3C626.9 107.6 627.3 109.8 627.0 112.7C626.6 115.6 625.6 119.5 624.5 122.6C623.4 125.6 622.0 128.3 620.4 130.8C618.7 133.3 617.0 135.7 614.6 137.4C612.3 139.0 609.7 139.8 606.4 140.7C603.1 141.5 598.4 142.2 594.9 142.3C591.3 142.4 587.7 141.9 585.0 141.5C582.3 141.1 579.5 140.1 578.4 139.8" fill="none" stroke="#bdc6ea" stroke-width="2.44" stroke-linecap="round" stroke-linejoin="round"/><path d="M595.7 77.5C595.0 75.8 591.7 70.9 591.6 67.6C591.5 64.3 593.4 61.3 594.9 57.7C596.4 54.2 599.4 49.8 600.7 46.2C601.9 42.6 602.6 39.2 602.3 36.3C602.0 33.5 600.7 30.6 599.0 28.9C597.4 27.3 595.2 26.7 592.4 26.5C589.7 26.2 586.1 26.2 582.6 27.3C579.0 28.4 574.3 30.7 571.0 33.0C567.7 35.4 564.7 38.3 562.8 41.3C560.9 44.3 559.9 47.9 559.5 51.2C559.1 54.4 559.2 57.7 560.3 61.0C561.4 64.3 563.5 67.9 566.1 70.9C568.7 73.9 572.7 77.0 576.0 79.1C579.3 81.2 582.3 82.4 585.8 83.6C589.4 84.8 593.5 85.9 597.3 86.5C601.2 87.1 605.3 86.4 608.9 87.3C612.4 88.3 616.1 90.3 618.7 92.3C621.4 94.2 623.2 96.7 624.5 98.8C625.8 101.0 626.1 103.0 626.5 105.3C626.9 107.6 627.3 109.8 627.0 112.7C626.6 115.6 625.6 119.5 624.5 122.6C623.4 125.6 622.0 128.3 620.4 130.8C618.7 133.3 617.0 135.7 614.6 137.4C612.3 139.0 609.7 139.8 606.4 140.7C603.1 141.5 598.4 142.2 594.9 142.3C591.3 142.4 587.7 141.9 585.0 141.5C582.3 141.1 579.5 140.1 578.4 139.8" fill="none" stroke="#cad2f0" stroke-width="1.11" stroke-linecap="round" stroke-linejoin="round"/>
<path d="M672.2 118.5C673.6 118.0 675.2 120.8 677.1 122.5C679.0 124.3 681.9 126.7 683.7 129.1C685.5 131.6 687.0 135.6 687.9 137.4C688.7 139.2 689.3 138.4 688.8 140.0C688.4 141.6 686.6 144.7 685.2 147.3C683.8 150.0 681.9 153.2 680.3 155.9C678.7 158.5 677.2 160.8 675.4 163.2C673.6 165.6 671.3 168.3 669.3 170.5C667.3 172.8 665.0 174.2 663.2 176.6C661.4 179.1 659.9 184.5 658.3 185.2C656.7 185.9 655.5 183.3 653.4 180.9C651.4 178.5 647.8 173.5 646.1 170.5C644.4 167.6 643.1 165.6 643.1 163.2C643.1 160.8 644.6 158.4 646.1 155.9C647.6 153.3 650.4 150.4 652.2 147.9C654.0 145.5 655.4 143.4 657.1 141.2C658.8 139.1 660.6 137.7 662.6 135.1C664.6 132.6 667.3 128.6 668.9 125.8C670.5 123.1 670.9 119.1 672.2 118.5Z" fill="url(#gb1)" stroke="#a9b4de" stroke-width="0.5" opacity="1"/>
<path d="M699.8 160.1C700.6 158.7 702.9 163.1 704.7 165.6C706.5 168.2 709.0 172.2 710.8 175.4C712.6 178.7 714.6 182.3 715.7 185.2C716.8 188.0 717.4 189.9 717.5 192.5C717.6 195.1 717.0 198.4 716.3 201.1C715.6 203.7 714.7 206.2 713.3 208.4C711.8 210.5 709.8 212.1 707.8 214.0C705.8 215.9 702.3 218.8 701.2 219.7C700.1 220.7 702.8 220.7 701.2 219.7C699.5 218.8 694.3 216.0 691.3 214.0C688.3 211.9 685.3 209.5 683.1 207.4C680.9 205.3 678.7 202.6 677.9 201.7C677.0 200.7 677.0 202.6 677.9 201.7C678.7 200.7 680.9 198.3 682.7 196.2C684.6 194.0 686.8 191.3 688.8 188.8C690.9 186.4 693.1 184.0 694.9 181.5C696.8 179.1 699.0 177.7 699.8 174.2C700.6 170.6 699.0 161.6 699.8 160.1Z" fill="url(#gb1)" stroke="#a9b4de" stroke-width="0.5" opacity="1"/>
<path d="M470.2 63.8L470.4 58.2" stroke="#a8a8a8" stroke-width="2.8" stroke-linecap="round" fill="none"/><path d="M470.2 63.8L470.4 58.2" stroke="#eeeeee" stroke-width="2.13" stroke-linecap="round" fill="none"/><path d="M470.2 63.8L470.4 58.2" stroke="#ffffff" stroke-width="0.84" stroke-linecap="round" fill="none" opacity="0.75"/><path d="M469.9 69.5L470.2 63.8" stroke="#3f8f2e" stroke-width="2.8" stroke-linecap="butt" fill="none"/><path d="M469.9 69.5L470.2 63.8" stroke="#5db446" stroke-width="2.13" stroke-linecap="butt" fill="none"/><path d="M469.9 69.5L470.2 63.8" stroke="#9adf7c" stroke-width="0.84" stroke-linecap="butt" fill="none" opacity="0.75"/>
<path d="M472.4 72.6L474.5 74.5" stroke="#a8a8a8" stroke-width="2.8" stroke-linecap="round" fill="none"/><path d="M472.4 72.6L474.5 74.5" stroke="#eeeeee" stroke-width="2.13" stroke-linecap="round" fill="none"/><path d="M472.4 72.6L474.5 74.5" stroke="#ffffff" stroke-width="0.84" stroke-linecap="round" fill="none" opacity="0.75"/><path d="M470.4 70.6L472.4 72.6" stroke="#3f8f2e" stroke-width="2.8" stroke-linecap="butt" fill="none"/><path d="M470.4 70.6L472.4 72.6" stroke="#5db446" stroke-width="2.13" stroke-linecap="butt" fill="none"/><path d="M470.4 70.6L472.4 72.6" stroke="#9adf7c" stroke-width="0.84" stroke-linecap="butt" fill="none" opacity="0.75"/>
<path d="M451.8 78.9L451.3 84.3" stroke="#a8a8a8" stroke-width="2.8" stroke-linecap="round" fill="none"/><path d="M451.8 78.9L451.3 84.3" stroke="#eeeeee" stroke-width="2.13" stroke-linecap="round" fill="none"/><path d="M451.8 78.9L451.3 84.3" stroke="#ffffff" stroke-width="0.84" stroke-linecap="round" fill="none" opacity="0.75"/><path d="M452.2 73.6L451.8 78.9" stroke="#3f8f2e" stroke-width="2.8" stroke-linecap="butt" fill="none"/><path d="M452.2 73.6L451.8 78.9" stroke="#5db446" stroke-width="2.13" stroke-linecap="butt" fill="none"/><path d="M452.2 73.6L451.8 78.9" stroke="#9adf7c" stroke-width="0.84" stroke-linecap="butt" fill="none" opacity="0.75"/>
<path d="M439.3 64.2L434.8 60.0" stroke="#a8a8a8" stroke-width="2.8" stroke-linecap="round" fill="none"/><path d="M439.3 64.2L434.8 60.0" stroke="#eeeeee" stroke-width="2.13" stroke-linecap="round" fill="none"/><path d="M439.3 64.2L434.8 60.0" stroke="#ffffff" stroke-width="0.84" stroke-linecap="round" fill="none" opacity="0.75"/><path d="M443.8 68.4L439.3 64.2" stroke="#3f8f2e" stroke-width="2.8" stroke-linecap="butt" fill="none"/><path d="M443.8 68.4L439.3 64.2" stroke="#5db446" stroke-width="2.13" stroke-linecap="butt" fill="none"/><path d="M443.8 68.4L439.3 64.2" stroke="#9adf7c" stroke-width="0.84" stroke-linecap="butt" fill="none" opacity="0.75"/>
<path d="M438.5 66.1L433.2 63.8" stroke="#a8a8a8" stroke-width="2.8" stroke-linecap="round" fill="none"/><path d="M438.5 66.1L433.2 63.8" stroke="#eeeeee" stroke-width="2.13" stroke-linecap="round" fill="none"/><path d="M438.5 66.1L433.2 63.8" stroke="#ffffff" stroke-width="0.84" stroke-linecap="round" fill="none" opacity="0.75"/><path d="M443.8 68.4L438.5 66.1" stroke="#3f8f2e" stroke-width="2.8" stroke-linecap="butt" fill="none"/><path d="M443.8 68.4L438.5 66.1" stroke="#5db446" stroke-width="2.13" stroke-linecap="butt" fill="none"/><path d="M443.8 68.4L438.5 66.1" stroke="#9adf7c" stroke-width="0.84" stroke-linecap="butt" fill="none" opacity="0.75"/>
<path d="M441.2 72.3L438.6 76.3" stroke="#a8a8a8" stroke-width="2.8" stroke-linecap="round" fill="none"/><path d="M441.2 72.3L438.6 76.3" stroke="#eeeeee" stroke-width="2.13" stroke-linecap="round" fill="none"/><path d="M441.2 72.3L438.6 76.3" stroke="#ffffff" stroke-width="0.84" stroke-linecap="round" fill="none" opacity="0.75"/><path d="M443.8 68.4L441.2 72.3" stroke="#3f8f2e" stroke-width="2.8" stroke-linecap="butt" fill="none"/><path d="M443.8 68.4L441.2 72.3" stroke="#5db446" stroke-width="2.13" stroke-linecap="butt" fill="none"/><path d="M443.8 68.4L441.2 72.3" stroke="#9adf7c" stroke-width="0.84" stroke-linecap="butt" fill="none" opacity="0.75"/>
<path d="M446.7 62.7L449.5 57.0" stroke="#a8a8a8" stroke-width="2.8" stroke-linecap="round" fill="none"/><path d="M446.7 62.7L449.5 57.0" stroke="#eeeeee" stroke-width="2.13" stroke-linecap="round" fill="none"/><path d="M446.7 62.7L449.5 57.0" stroke="#ffffff" stroke-width="0.84" stroke-linecap="round" fill="none" opacity="0.75"/><path d="M443.8 68.4L446.7 62.7" stroke="#3f8f2e" stroke-width="2.8" stroke-linecap="butt" fill="none"/><path d="M443.8 68.4L446.7 62.7" stroke="#5db446" stroke-width="2.13" stroke-linecap="butt" fill="none"/><path d="M443.8 68.4L446.7 62.7" stroke="#9adf7c" stroke-width="0.84" stroke-linecap="butt" fill="none" opacity="0.75"/>
<path d="M447.2 65.9L450.6 63.4" stroke="#a8a8a8" stroke-width="2.8" stroke-linecap="round" fill="none"/><path d="M447.2 65.9L450.6 63.4" stroke="#eeeeee" stroke-width="2.13" stroke-linecap="round" fill="none"/><path d="M447.2 65.9L450.6 63.4" stroke="#ffffff" stroke-width="0.84" stroke-linecap="round" fill="none" opacity="0.75"/><path d="M443.8 68.4L447.2 65.9" stroke="#3f8f2e" stroke-width="2.8" stroke-linecap="butt" fill="none"/><path d="M443.8 68.4L447.2 65.9" stroke="#5db446" stroke-width="2.13" stroke-linecap="butt" fill="none"/><path d="M443.8 68.4L447.2 65.9" stroke="#9adf7c" stroke-width="0.84" stroke-linecap="butt" fill="none" opacity="0.75"/>
<path d="M443.8 68.4L454.0 72.2" stroke="#2c6a20" stroke-width="5.4" stroke-linecap="round" fill="none"/><path d="M443.8 68.4L454.0 72.2" stroke="#3f8a2c" stroke-width="4.10" stroke-linecap="round" fill="none"/><path d="M443.8 68.4L454.0 72.2" stroke="#5aa840" stroke-width="1.62" stroke-linecap="round" fill="none" opacity="0.75"/>
<path d="M454.0 72.2L469.9 69.5" stroke="#3f8f2e" stroke-width="5.4" stroke-linecap="round" fill="none"/><path d="M454.0 72.2L469.9 69.5" stroke="#5db446" stroke-width="4.10" stroke-linecap="round" fill="none"/><path d="M454.0 72.2L469.9 69.5" stroke="#9adf7c" stroke-width="1.62" stroke-linecap="round" fill="none" opacity="0.75"/>
<path d="M469.9 69.5L478.6 75.2" stroke="#2c6a20" stroke-width="5.4" stroke-linecap="round" fill="none"/><path d="M469.9 69.5L478.6 75.2" stroke="#3f8a2c" stroke-width="4.10" stroke-linecap="round" fill="none"/><path d="M469.9 69.5L478.6 75.2" stroke="#5aa840" stroke-width="1.62" stroke-linecap="round" fill="none" opacity="0.75"/>
<path d="M546.5 92.5L544.4 89.5" stroke="#a8a8a8" stroke-width="2.8" stroke-linecap="round" fill="none"/><path d="M546.5 92.5L544.4 89.5" stroke="#eeeeee" stroke-width="2.13" stroke-linecap="round" fill="none"/><path d="M546.5 92.5L544.4 89.5" stroke="#ffffff" stroke-width="0.84" stroke-linecap="round" fill="none" opacity="0.75"/><path d="M548.7 95.6L546.5 92.5" stroke="#3f8f2e" stroke-width="2.8" stroke-linecap="butt" fill="none"/><path d="M548.7 95.6L546.5 92.5" stroke="#5db446" stroke-width="2.13" stroke-linecap="butt" fill="none"/><path d="M548.7 95.6L546.5 92.5" stroke="#9adf7c" stroke-width="0.84" stroke-linecap="butt" fill="none" opacity="0.75"/>
<path d="M546.2 97.5L543.7 98.3" stroke="#a8a8a8" stroke-width="2.8" stroke-linecap="round" fill="none"/><path d="M546.2 97.5L543.7 98.3" stroke="#eeeeee" stroke-width="2.13" stroke-linecap="round" fill="none"/><path d="M546.2 97.5L543.7 98.3" stroke="#ffffff" stroke-width="0.84" stroke-linecap="round" fill="none" opacity="0.75"/><path d="M548.7 96.7L546.2 97.5" stroke="#3f8f2e" stroke-width="2.8" stroke-linecap="butt" fill="none"/><path d="M548.7 96.7L546.2 97.5" stroke="#5db446" stroke-width="2.13" stroke-linecap="butt" fill="none"/><path d="M548.7 96.7L546.2 97.5" stroke="#9adf7c" stroke-width="0.84" stroke-linecap="butt" fill="none" opacity="0.75"/>
<path d="M548.7 111.5L548.7 95.6" stroke="#3f8f2e" stroke-width="5.4" stroke-linecap="round" fill="none"/><path d="M548.7 111.5L548.7 95.6" stroke="#5db446" stroke-width="4.10" stroke-linecap="round" fill="none"/><path d="M548.7 111.5L548.7 95.6" stroke="#9adf7c" stroke-width="1.62" stroke-linecap="round" fill="none" opacity="0.75"/>
<path d="M558.4 94.0L569.8 91.7" stroke="#b48f1c" stroke-width="5.4" stroke-linecap="round" fill="none"/><path d="M558.4 94.0L569.8 91.7" stroke="#e2b92f" stroke-width="4.10" stroke-linecap="round" fill="none"/><path d="M558.4 94.0L569.8 91.7" stroke="#f3d869" stroke-width="1.62" stroke-linecap="round" fill="none" opacity="0.75"/>
<path d="M548.7 95.6L558.9 94.0" stroke="#3f8f2e" stroke-width="5.4" stroke-linecap="round" fill="none"/><path d="M548.7 95.6L558.9 94.0" stroke="#5db446" stroke-width="4.10" stroke-linecap="round" fill="none"/><path d="M548.7 95.6L558.9 94.0" stroke="#9adf7c" stroke-width="1.62" stroke-linecap="round" fill="none" opacity="0.75"/>
<path d="M631.3 40.6L626.4 41.8" stroke="#a8a8a8" stroke-width="2.8" stroke-linecap="round" fill="none"/><path d="M631.3 40.6L626.4 41.8" stroke="#eeeeee" stroke-width="2.13" stroke-linecap="round" fill="none"/><path d="M631.3 40.6L626.4 41.8" stroke="#ffffff" stroke-width="0.84" stroke-linecap="round" fill="none" opacity="0.75"/><path d="M636.2 39.5L631.3 40.6" stroke="#3f8f2e" stroke-width="2.8" stroke-linecap="butt" fill="none"/><path d="M636.2 39.5L631.3 40.6" stroke="#5db446" stroke-width="2.13" stroke-linecap="butt" fill="none"/><path d="M636.2 39.5L631.3 40.6" stroke="#9adf7c" stroke-width="0.84" stroke-linecap="butt" fill="none" opacity="0.75"/>
<path d="M637.5 36.4L638.9 33.4" stroke="#a8a8a8" stroke-width="2.8" stroke-linecap="round" fill="none"/><path d="M637.5 36.4L638.9 33.4" stroke="#eeeeee" stroke-width="2.13" stroke-linecap="round" fill="none"/><path d="M637.5 36.4L638.9 33.4" stroke="#ffffff" stroke-width="0.84" stroke-linecap="round" fill="none" opacity="0.75"/><path d="M636.2 39.5L637.5 36.4" stroke="#3f8f2e" stroke-width="2.8" stroke-linecap="butt" fill="none"/><path d="M636.2 39.5L637.5 36.4" stroke="#5db446" stroke-width="2.13" stroke-linecap="butt" fill="none"/><path d="M636.2 39.5L637.5 36.4" stroke="#9adf7c" stroke-width="0.84" stroke-linecap="butt" fill="none" opacity="0.75"/>
<path d="M661.3 45.7L662.0 40.6" stroke="#a8a8a8" stroke-width="2.8" stroke-linecap="round" fill="none"/><path d="M661.3 45.7L662.0 40.6" stroke="#eeeeee" stroke-width="2.13" stroke-linecap="round" fill="none"/><path d="M661.3 45.7L662.0 40.6" stroke="#ffffff" stroke-width="0.84" stroke-linecap="round" fill="none" opacity="0.75"/><path d="M660.5 50.9L661.3 45.7" stroke="#3f8f2e" stroke-width="2.8" stroke-linecap="butt" fill="none"/><path d="M660.5 50.9L661.3 45.7" stroke="#5db446" stroke-width="2.13" stroke-linecap="butt" fill="none"/><path d="M660.5 50.9L661.3 45.7" stroke="#9adf7c" stroke-width="0.84" stroke-linecap="butt" fill="none" opacity="0.75"/>
<path d="M632.3 60.7L629.8 58.8" stroke="#a8a8a8" stroke-width="2.8" stroke-linecap="round" fill="none"/><path d="M632.3 60.7L629.8 58.8" stroke="#eeeeee" stroke-width="2.13" stroke-linecap="round" fill="none"/><path d="M632.3 60.7L629.8 58.8" stroke="#ffffff" stroke-width="0.84" stroke-linecap="round" fill="none" opacity="0.75"/><path d="M634.8 62.7L632.3 60.7" stroke="#3f8f2e" stroke-width="2.8" stroke-linecap="butt" fill="none"/><path d="M634.8 62.7L632.3 60.7" stroke="#5db446" stroke-width="2.13" stroke-linecap="butt" fill="none"/><path d="M634.8 62.7L632.3 60.7" stroke="#9adf7c" stroke-width="0.84" stroke-linecap="butt" fill="none" opacity="0.75"/>
<path d="M642.3 65.6L644.6 66.7" stroke="#a8a8a8" stroke-width="2.8" stroke-linecap="round" fill="none"/><path d="M642.3 65.6L644.6 66.7" stroke="#eeeeee" stroke-width="2.13" stroke-linecap="round" fill="none"/><path d="M642.3 65.6L644.6 66.7" stroke="#ffffff" stroke-width="0.84" stroke-linecap="round" fill="none" opacity="0.75"/><path d="M640.0 64.5L642.3 65.6" stroke="#3f8f2e" stroke-width="2.8" stroke-linecap="butt" fill="none"/><path d="M640.0 64.5L642.3 65.6" stroke="#5db446" stroke-width="2.13" stroke-linecap="butt" fill="none"/><path d="M640.0 64.5L642.3 65.6" stroke="#9adf7c" stroke-width="0.84" stroke-linecap="butt" fill="none" opacity="0.75"/>
<path d="M660.5 51.5L666.1 56.1" stroke="#a8a8a8" stroke-width="2.6" stroke-linecap="round" fill="none"/><path d="M660.5 51.5L666.1 56.1" stroke="#eeeeee" stroke-width="1.98" stroke-linecap="round" fill="none"/><path d="M660.5 51.5L666.1 56.1" stroke="#ffffff" stroke-width="0.78" stroke-linecap="round" fill="none" opacity="0.75"/>
<path d="M665.7 55.8L672.9 57.7" stroke="#a8a8a8" stroke-width="2.6" stroke-linecap="round" fill="none"/><path d="M665.7 55.8L672.9 57.7" stroke="#eeeeee" stroke-width="1.98" stroke-linecap="round" fill="none"/><path d="M665.7 55.8L672.9 57.7" stroke="#ffffff" stroke-width="0.78" stroke-linecap="round" fill="none" opacity="0.75"/>
<path d="M631.4 76.5L642.3 55.4" stroke="#3f8f2e" stroke-width="5.4" stroke-linecap="round" fill="none"/><path d="M631.4 76.5L642.3 55.4" stroke="#5db446" stroke-width="4.10" stroke-linecap="round" fill="none"/><path d="M631.4 76.5L642.3 55.4" stroke="#9adf7c" stroke-width="1.62" stroke-linecap="round" fill="none" opacity="0.75"/>
<path d="M642.3 55.4L636.2 39.5" stroke="#3f8f2e" stroke-width="5.4" stroke-linecap="round" fill="none"/><path d="M642.3 55.4L636.2 39.5" stroke="#5db446" stroke-width="4.10" stroke-linecap="round" fill="none"/><path d="M642.3 55.4L636.2 39.5" stroke="#9adf7c" stroke-width="1.62" stroke-linecap="round" fill="none" opacity="0.75"/>
<path d="M642.3 54.7L660.5 50.9" stroke="#3f8f2e" stroke-width="5.4" stroke-linecap="round" fill="none"/><path d="M642.3 54.7L660.5 50.9" stroke="#5db446" stroke-width="4.10" stroke-linecap="round" fill="none"/><path d="M642.3 54.7L660.5 50.9" stroke="#9adf7c" stroke-width="1.62" stroke-linecap="round" fill="none" opacity="0.75"/>
<path d="M680.5 56.9L685.4 56.1" stroke="#a8a8a8" stroke-width="2.8" stroke-linecap="round" fill="none"/><path d="M680.5 56.9L685.4 56.1" stroke="#eeeeee" stroke-width="2.13" stroke-linecap="round" fill="none"/><path d="M680.5 56.9L685.4 56.1" stroke="#ffffff" stroke-width="0.84" stroke-linecap="round" fill="none" opacity="0.75"/><path d="M675.7 57.7L680.5 56.9" stroke="#172f86" stroke-width="2.8" stroke-linecap="butt" fill="none"/><path d="M675.7 57.7L680.5 56.9" stroke="#2346c0" stroke-width="2.13" stroke-linecap="butt" fill="none"/><path d="M675.7 57.7L680.5 56.9" stroke="#5b77dd" stroke-width="0.84" stroke-linecap="butt" fill="none" opacity="0.75"/>
<path d="M679.4 76.2L683.2 76.5" stroke="#a8a8a8" stroke-width="2.8" stroke-linecap="round" fill="none"/><path d="M679.4 76.2L683.2 76.5" stroke="#eeeeee" stroke-width="2.13" stroke-linecap="round" fill="none"/><path d="M679.4 76.2L683.2 76.5" stroke="#ffffff" stroke-width="0.84" stroke-linecap="round" fill="none" opacity="0.75"/><path d="M675.7 75.8L679.4 76.2" stroke="#3f8f2e" stroke-width="2.8" stroke-linecap="butt" fill="none"/><path d="M675.7 75.8L679.4 76.2" stroke="#5db446" stroke-width="2.13" stroke-linecap="butt" fill="none"/><path d="M675.7 75.8L679.4 76.2" stroke="#9adf7c" stroke-width="0.84" stroke-linecap="butt" fill="none" opacity="0.75"/>
<path d="M660.1 72.6L662.0 66.7" stroke="#a8a8a8" stroke-width="2.8" stroke-linecap="round" fill="none"/><path d="M660.1 72.6L662.0 66.7" stroke="#eeeeee" stroke-width="2.13" stroke-linecap="round" fill="none"/><path d="M660.1 72.6L662.0 66.7" stroke="#ffffff" stroke-width="0.84" stroke-linecap="round" fill="none" opacity="0.75"/><path d="M658.2 78.5L660.1 72.6" stroke="#3f8f2e" stroke-width="2.8" stroke-linecap="butt" fill="none"/><path d="M658.2 78.5L660.1 72.6" stroke="#5db446" stroke-width="2.13" stroke-linecap="butt" fill="none"/><path d="M658.2 78.5L660.1 72.6" stroke="#9adf7c" stroke-width="0.84" stroke-linecap="butt" fill="none" opacity="0.75"/>
<path d="M654.8 75.5L651.4 72.4" stroke="#a8a8a8" stroke-width="2.8" stroke-linecap="round" fill="none"/><path d="M654.8 75.5L651.4 72.4" stroke="#eeeeee" stroke-width="2.13" stroke-linecap="round" fill="none"/><path d="M654.8 75.5L651.4 72.4" stroke="#ffffff" stroke-width="0.84" stroke-linecap="round" fill="none" opacity="0.75"/><path d="M658.2 78.5L654.8 75.5" stroke="#3f8f2e" stroke-width="2.8" stroke-linecap="butt" fill="none"/><path d="M658.2 78.5L654.8 75.5" stroke="#5db446" stroke-width="2.13" stroke-linecap="butt" fill="none"/><path d="M658.2 78.5L654.8 75.5" stroke="#9adf7c" stroke-width="0.84" stroke-linecap="butt" fill="none" opacity="0.75"/>
<path d="M657.6 84.3L657.1 89.4" stroke="#a8a8a8" stroke-width="2.8" stroke-linecap="round" fill="none"/><path d="M657.6 84.3L657.1 89.4" stroke="#eeeeee" stroke-width="2.13" stroke-linecap="round" fill="none"/><path d="M657.6 84.3L657.1 89.4" stroke="#ffffff" stroke-width="0.84" stroke-linecap="round" fill="none" opacity="0.75"/><path d="M658.2 79.2L657.6 84.3" stroke="#3f8f2e" stroke-width="2.8" stroke-linecap="butt" fill="none"/><path d="M658.2 79.2L657.6 84.3" stroke="#5db446" stroke-width="2.13" stroke-linecap="butt" fill="none"/><path d="M658.2 79.2L657.6 84.3" stroke="#9adf7c" stroke-width="0.84" stroke-linecap="butt" fill="none" opacity="0.75"/>
<path d="M665.9 82.1L667.9 84.9" stroke="#a8a8a8" stroke-width="2.8" stroke-linecap="round" fill="none"/><path d="M665.9 82.1L667.9 84.9" stroke="#eeeeee" stroke-width="2.13" stroke-linecap="round" fill="none"/><path d="M665.9 82.1L667.9 84.9" stroke="#ffffff" stroke-width="0.84" stroke-linecap="round" fill="none" opacity="0.75"/><path d="M663.9 79.2L665.9 82.1" stroke="#3f8f2e" stroke-width="2.8" stroke-linecap="butt" fill="none"/><path d="M663.9 79.2L665.9 82.1" stroke="#5db446" stroke-width="2.13" stroke-linecap="butt" fill="none"/><path d="M663.9 79.2L665.9 82.1" stroke="#9adf7c" stroke-width="0.84" stroke-linecap="butt" fill="none" opacity="0.75"/>
<path d="M640.9 85.4L638.4 87.6" stroke="#a8a8a8" stroke-width="2.8" stroke-linecap="round" fill="none"/><path d="M640.9 85.4L638.4 87.6" stroke="#eeeeee" stroke-width="2.13" stroke-linecap="round" fill="none"/><path d="M640.9 85.4L638.4 87.6" stroke="#ffffff" stroke-width="0.84" stroke-linecap="round" fill="none" opacity="0.75"/><path d="M643.4 83.1L640.9 85.4" stroke="#3f8f2e" stroke-width="2.8" stroke-linecap="butt" fill="none"/><path d="M643.4 83.1L640.9 85.4" stroke="#5db446" stroke-width="2.13" stroke-linecap="butt" fill="none"/><path d="M643.4 83.1L640.9 85.4" stroke="#9adf7c" stroke-width="0.84" stroke-linecap="butt" fill="none" opacity="0.75"/>
<path d="M643.4 82.6L645.3 89.9" stroke="#2c6a20" stroke-width="5.4" stroke-linecap="round" fill="none"/><path d="M643.4 82.6L645.3 89.9" stroke="#3f8a2c" stroke-width="4.10" stroke-linecap="round" fill="none"/><path d="M643.4 82.6L645.3 89.9" stroke="#5aa840" stroke-width="1.62" stroke-linecap="round" fill="none" opacity="0.75"/>
<path d="M675.7 75.8L658.2 78.5" stroke="#3f8f2e" stroke-width="5.4" stroke-linecap="round" fill="none"/><path d="M675.7 75.8L658.2 78.5" stroke="#5db446" stroke-width="4.10" stroke-linecap="round" fill="none"/><path d="M675.7 75.8L658.2 78.5" stroke="#9adf7c" stroke-width="1.62" stroke-linecap="round" fill="none" opacity="0.75"/>
<path d="M658.2 78.5L643.4 82.6" stroke="#3f8f2e" stroke-width="5.4" stroke-linecap="round" fill="none"/><path d="M658.2 78.5L643.4 82.6" stroke="#5db446" stroke-width="4.10" stroke-linecap="round" fill="none"/><path d="M658.2 78.5L643.4 82.6" stroke="#9adf7c" stroke-width="1.62" stroke-linecap="round" fill="none" opacity="0.75"/>
<path d="M675.7 66.7L675.7 75.8" stroke="#3f8f2e" stroke-width="5.4" stroke-linecap="round" fill="none"/><path d="M675.7 66.7L675.7 75.8" stroke="#5db446" stroke-width="4.10" stroke-linecap="round" fill="none"/><path d="M675.7 66.7L675.7 75.8" stroke="#9adf7c" stroke-width="1.62" stroke-linecap="round" fill="none" opacity="0.75"/>
<path d="M675.7 57.7L675.7 66.7" stroke="#172f86" stroke-width="5.4" stroke-linecap="round" fill="none"/><path d="M675.7 57.7L675.7 66.7" stroke="#2346c0" stroke-width="4.10" stroke-linecap="round" fill="none"/><path d="M675.7 57.7L675.7 66.7" stroke="#5b77dd" stroke-width="1.62" stroke-linecap="round" fill="none" opacity="0.75"/>
<path d="M687.5 110.1L693.4 110.3" stroke="#a8a8a8" stroke-width="2.8" stroke-linecap="round" fill="none"/><path d="M687.5 110.1L693.4 110.3" stroke="#eeeeee" stroke-width="2.13" stroke-linecap="round" fill="none"/><path d="M687.5 110.1L693.4 110.3" stroke="#ffffff" stroke-width="0.84" stroke-linecap="round" fill="none" opacity="0.75"/><path d="M681.6 109.9L687.5 110.1" stroke="#3f8f2e" stroke-width="2.8" stroke-linecap="butt" fill="none"/><path d="M681.6 109.9L687.5 110.1" stroke="#5db446" stroke-width="2.13" stroke-linecap="butt" fill="none"/><path d="M681.6 109.9L687.5 110.1" stroke="#9adf7c" stroke-width="0.84" stroke-linecap="butt" fill="none" opacity="0.75"/>
<path d="M681.6 109.9L675.2 122.3" stroke="#2c6a20" stroke-width="5.4" stroke-linecap="round" fill="none"/><path d="M681.6 109.9L675.2 122.3" stroke="#3f8a2c" stroke-width="4.10" stroke-linecap="round" fill="none"/><path d="M681.6 109.9L675.2 122.3" stroke="#5aa840" stroke-width="1.62" stroke-linecap="round" fill="none" opacity="0.75"/>
<path d="M676.1 92.8L681.6 109.9" stroke="#3f8f2e" stroke-width="5.4" stroke-linecap="round" fill="none"/><path d="M676.1 92.8L681.6 109.9" stroke="#5db446" stroke-width="4.10" stroke-linecap="round" fill="none"/><path d="M676.1 92.8L681.6 109.9" stroke="#9adf7c" stroke-width="1.62" stroke-linecap="round" fill="none" opacity="0.75"/>
<path d="M673.6 84.4L676.1 92.8" stroke="#172f86" stroke-width="3.8" stroke-linecap="round" fill="none"/><path d="M673.6 84.4L676.1 92.8" stroke="#2346c0" stroke-width="2.89" stroke-linecap="round" fill="none"/><path d="M673.6 84.4L676.1 92.8" stroke="#5b77dd" stroke-width="1.14" stroke-linecap="round" fill="none" opacity="0.75"/>
<path d="M592.9 148.1L596.9 151.8" stroke="#a8a8a8" stroke-width="2.8" stroke-linecap="round" fill="none"/><path d="M592.9 148.1L596.9 151.8" stroke="#eeeeee" stroke-width="2.13" stroke-linecap="round" fill="none"/><path d="M592.9 148.1L596.9 151.8" stroke="#ffffff" stroke-width="0.84" stroke-linecap="round" fill="none" opacity="0.75"/><path d="M588.9 144.5L592.9 148.1" stroke="#3f8f2e" stroke-width="2.8" stroke-linecap="butt" fill="none"/><path d="M588.9 144.5L592.9 148.1" stroke="#5db446" stroke-width="2.13" stroke-linecap="butt" fill="none"/><path d="M588.9 144.5L592.9 148.1" stroke="#9adf7c" stroke-width="0.84" stroke-linecap="butt" fill="none" opacity="0.75"/>
<path d="M573.1 147.7L588.9 144.5" stroke="#3f8f2e" stroke-width="5.4" stroke-linecap="round" fill="none"/><path d="M573.1 147.7L588.9 144.5" stroke="#5db446" stroke-width="4.10" stroke-linecap="round" fill="none"/><path d="M573.1 147.7L588.9 144.5" stroke="#9adf7c" stroke-width="1.62" stroke-linecap="round" fill="none" opacity="0.75"/>
<path d="M591.2 135.9L594.6 125.0" stroke="#b48f1c" stroke-width="5.4" stroke-linecap="round" fill="none"/><path d="M591.2 135.9L594.6 125.0" stroke="#e2b92f" stroke-width="4.10" stroke-linecap="round" fill="none"/><path d="M591.2 135.9L594.6 125.0" stroke="#f3d869" stroke-width="1.62" stroke-linecap="round" fill="none" opacity="0.75"/>
<path d="M588.9 144.5L591.2 135.4" stroke="#3f8f2e" stroke-width="5.4" stroke-linecap="round" fill="none"/><path d="M588.9 144.5L591.2 135.4" stroke="#5db446" stroke-width="4.10" stroke-linecap="round" fill="none"/><path d="M588.9 144.5L591.2 135.4" stroke="#9adf7c" stroke-width="1.62" stroke-linecap="round" fill="none" opacity="0.75"/>
<path d="M564.8 166.5L559.9 166.5" stroke="#a8a8a8" stroke-width="2.8" stroke-linecap="round" fill="none"/><path d="M564.8 166.5L559.9 166.5" stroke="#eeeeee" stroke-width="2.13" stroke-linecap="round" fill="none"/><path d="M564.8 166.5L559.9 166.5" stroke="#ffffff" stroke-width="0.84" stroke-linecap="round" fill="none" opacity="0.75"/><path d="M569.7 166.5L564.8 166.5" stroke="#3f8f2e" stroke-width="2.8" stroke-linecap="butt" fill="none"/><path d="M569.7 166.5L564.8 166.5" stroke="#5db446" stroke-width="2.13" stroke-linecap="butt" fill="none"/><path d="M569.7 166.5L564.8 166.5" stroke="#9adf7c" stroke-width="0.84" stroke-linecap="butt" fill="none" opacity="0.75"/>
<path d="M590.4 159.5L592.3 158.6" stroke="#a8a8a8" stroke-width="2.0" stroke-linecap="round" fill="none"/><path d="M590.4 159.5L592.3 158.6" stroke="#eeeeee" stroke-width="1.52" stroke-linecap="round" fill="none"/><path d="M590.4 159.5L592.3 158.6" stroke="#ffffff" stroke-width="0.60" stroke-linecap="round" fill="none" opacity="0.75"/><path d="M588.5 160.4L590.4 159.5" stroke="#3f8f2e" stroke-width="2.0" stroke-linecap="butt" fill="none"/><path d="M588.5 160.4L590.4 159.5" stroke="#5db446" stroke-width="1.52" stroke-linecap="butt" fill="none"/><path d="M588.5 160.4L590.4 159.5" stroke="#9adf7c" stroke-width="0.60" stroke-linecap="butt" fill="none" opacity="0.75"/>
<path d="M584.9 164.3L588.5 160.4" stroke="#a8281e" stroke-width="5.4" stroke-linecap="round" fill="none"/><path d="M584.9 164.3L588.5 160.4" stroke="#e3402f" stroke-width="4.10" stroke-linecap="round" fill="none"/><path d="M584.9 164.3L588.5 160.4" stroke="#f2857a" stroke-width="1.62" stroke-linecap="round" fill="none" opacity="0.75"/>
<path d="M579.9 171.1L584.9 164.3" stroke="#3f8f2e" stroke-width="5.4" stroke-linecap="round" fill="none"/><path d="M579.9 171.1L584.9 164.3" stroke="#5db446" stroke-width="4.10" stroke-linecap="round" fill="none"/><path d="M579.9 171.1L584.9 164.3" stroke="#9adf7c" stroke-width="1.62" stroke-linecap="round" fill="none" opacity="0.75"/>
<path d="M569.7 166.5L579.9 171.1" stroke="#3f8f2e" stroke-width="5.4" stroke-linecap="round" fill="none"/><path d="M569.7 166.5L579.9 171.1" stroke="#5db446" stroke-width="4.10" stroke-linecap="round" fill="none"/><path d="M569.7 166.5L579.9 171.1" stroke="#9adf7c" stroke-width="1.62" stroke-linecap="round" fill="none" opacity="0.75"/>
<path d="M579.9 171.1L588.9 182.4" stroke="#3f8f2e" stroke-width="5.4" stroke-linecap="round" fill="none"/><path d="M579.9 171.1L588.9 182.4" stroke="#5db446" stroke-width="4.10" stroke-linecap="round" fill="none"/><path d="M579.9 171.1L588.9 182.4" stroke="#9adf7c" stroke-width="1.62" stroke-linecap="round" fill="none" opacity="0.75"/>
<path d="M605.4 195.7L603.7 200.6" stroke="#a8a8a8" stroke-width="2.8" stroke-linecap="round" fill="none"/><path d="M605.4 195.7L603.7 200.6" stroke="#eeeeee" stroke-width="2.13" stroke-linecap="round" fill="none"/><path d="M605.4 195.7L603.7 200.6" stroke="#ffffff" stroke-width="0.84" stroke-linecap="round" fill="none" opacity="0.75"/><path d="M607.1 190.8L605.4 195.7" stroke="#3f8f2e" stroke-width="2.8" stroke-linecap="butt" fill="none"/><path d="M607.1 190.8L605.4 195.7" stroke="#5db446" stroke-width="2.13" stroke-linecap="butt" fill="none"/><path d="M607.1 190.8L605.4 195.7" stroke="#9adf7c" stroke-width="0.84" stroke-linecap="butt" fill="none" opacity="0.75"/>
<path d="M638.9 170.4L638.9 176.8" stroke="#a8a8a8" stroke-width="2.2" stroke-linecap="round" fill="none"/><path d="M638.9 170.4L638.9 176.8" stroke="#eeeeee" stroke-width="1.67" stroke-linecap="round" fill="none"/><path d="M638.9 170.4L638.9 176.8" stroke="#ffffff" stroke-width="0.66" stroke-linecap="round" fill="none" opacity="0.75"/><path d="M638.9 164.1L638.9 170.4" stroke="#3f8f2e" stroke-width="2.2" stroke-linecap="butt" fill="none"/><path d="M638.9 164.1L638.9 170.4" stroke="#5db446" stroke-width="1.67" stroke-linecap="butt" fill="none"/><path d="M638.9 164.1L638.9 170.4" stroke="#9adf7c" stroke-width="0.66" stroke-linecap="butt" fill="none" opacity="0.75"/>
<path d="M594.6 181.3L607.1 190.4" stroke="#3f8f2e" stroke-width="5.4" stroke-linecap="round" fill="none"/><path d="M594.6 181.3L607.1 190.4" stroke="#5db446" stroke-width="4.10" stroke-linecap="round" fill="none"/><path d="M594.6 181.3L607.1 190.4" stroke="#9adf7c" stroke-width="1.62" stroke-linecap="round" fill="none" opacity="0.75"/>
<path d="M608.2 189.2L613.9 184.7" stroke="#6a6a1e" stroke-width="5.4" stroke-linecap="round" fill="none"/><path d="M608.2 189.2L613.9 184.7" stroke="#8a8a2c" stroke-width="4.10" stroke-linecap="round" fill="none"/><path d="M608.2 189.2L613.9 184.7" stroke="#a8a840" stroke-width="1.62" stroke-linecap="round" fill="none" opacity="0.75"/>
<path d="M613.9 184.7L621.9 167.7" stroke="#b48f1c" stroke-width="5.4" stroke-linecap="round" fill="none"/><path d="M613.9 184.7L621.9 167.7" stroke="#e2b92f" stroke-width="4.10" stroke-linecap="round" fill="none"/><path d="M613.9 184.7L621.9 167.7" stroke="#f3d869" stroke-width="1.62" stroke-linecap="round" fill="none" opacity="0.75"/>
<path d="M622.6 167.2L632.5 169.5" stroke="#b48f1c" stroke-width="5.4" stroke-linecap="round" fill="none"/><path d="M622.6 167.2L632.5 169.5" stroke="#e2b92f" stroke-width="4.10" stroke-linecap="round" fill="none"/><path d="M622.6 167.2L632.5 169.5" stroke="#f3d869" stroke-width="1.62" stroke-linecap="round" fill="none" opacity="0.75"/>
<path d="M632.5 169.5L651.4 172.7" stroke="#3f8f2e" stroke-width="5.4" stroke-linecap="round" fill="none"/><path d="M632.5 169.5L651.4 172.7" stroke="#5db446" stroke-width="4.10" stroke-linecap="round" fill="none"/><path d="M632.5 169.5L651.4 172.7" stroke="#9adf7c" stroke-width="1.62" stroke-linecap="round" fill="none" opacity="0.75"/>
<path d="M633.2 229.7L631.6 232.2" stroke="#a8a8a8" stroke-width="2.8" stroke-linecap="round" fill="none"/><path d="M633.2 229.7L631.6 232.2" stroke="#eeeeee" stroke-width="2.13" stroke-linecap="round" fill="none"/><path d="M633.2 229.7L631.6 232.2" stroke="#ffffff" stroke-width="0.84" stroke-linecap="round" fill="none" opacity="0.75"/><path d="M634.8 227.2L633.2 229.7" stroke="#3f8f2e" stroke-width="2.8" stroke-linecap="butt" fill="none"/><path d="M634.8 227.2L633.2 229.7" stroke="#5db446" stroke-width="2.13" stroke-linecap="butt" fill="none"/><path d="M634.8 227.2L633.2 229.7" stroke="#9adf7c" stroke-width="0.84" stroke-linecap="butt" fill="none" opacity="0.75"/>
<path d="M639.5 226.8L643.4 227.6" stroke="#a8a8a8" stroke-width="2.8" stroke-linecap="round" fill="none"/><path d="M639.5 226.8L643.4 227.6" stroke="#eeeeee" stroke-width="2.13" stroke-linecap="round" fill="none"/><path d="M639.5 226.8L643.4 227.6" stroke="#ffffff" stroke-width="0.84" stroke-linecap="round" fill="none" opacity="0.75"/><path d="M635.5 226.0L639.5 226.8" stroke="#3f8f2e" stroke-width="2.8" stroke-linecap="butt" fill="none"/><path d="M635.5 226.0L639.5 226.8" stroke="#5db446" stroke-width="2.13" stroke-linecap="butt" fill="none"/><path d="M635.5 226.0L639.5 226.8" stroke="#9adf7c" stroke-width="0.84" stroke-linecap="butt" fill="none" opacity="0.75"/>
<path d="M622.6 216.3L633.2 222.6" stroke="#b48f1c" stroke-width="5.4" stroke-linecap="round" fill="none"/><path d="M622.6 216.3L633.2 222.6" stroke="#e2b92f" stroke-width="4.10" stroke-linecap="round" fill="none"/><path d="M622.6 216.3L633.2 222.6" stroke="#f3d869" stroke-width="1.62" stroke-linecap="round" fill="none" opacity="0.75"/>
<path d="M637.1 215.8L634.8 227.2" stroke="#3f8f2e" stroke-width="5.4" stroke-linecap="round" fill="none"/><path d="M637.1 215.8L634.8 227.2" stroke="#5db446" stroke-width="4.10" stroke-linecap="round" fill="none"/><path d="M637.1 215.8L634.8 227.2" stroke="#9adf7c" stroke-width="1.62" stroke-linecap="round" fill="none" opacity="0.75"/>
<path d="M671.8 242.8L668.4 243.1" stroke="#a8a8a8" stroke-width="2.8" stroke-linecap="round" fill="none"/><path d="M671.8 242.8L668.4 243.1" stroke="#eeeeee" stroke-width="2.13" stroke-linecap="round" fill="none"/><path d="M671.8 242.8L668.4 243.1" stroke="#ffffff" stroke-width="0.84" stroke-linecap="round" fill="none" opacity="0.75"/><path d="M675.2 242.6L671.8 242.8" stroke="#3f8f2e" stroke-width="2.8" stroke-linecap="butt" fill="none"/><path d="M675.2 242.6L671.8 242.8" stroke="#5db446" stroke-width="2.13" stroke-linecap="butt" fill="none"/><path d="M675.2 242.6L671.8 242.8" stroke="#9adf7c" stroke-width="0.84" stroke-linecap="butt" fill="none" opacity="0.75"/>
<path d="M689.4 235.1L694.5 235.8" stroke="#a8a8a8" stroke-width="2.8" stroke-linecap="round" fill="none"/><path d="M689.4 235.1L694.5 235.8" stroke="#eeeeee" stroke-width="2.13" stroke-linecap="round" fill="none"/><path d="M689.4 235.1L694.5 235.8" stroke="#ffffff" stroke-width="0.84" stroke-linecap="round" fill="none" opacity="0.75"/><path d="M684.3 234.4L689.4 235.1" stroke="#3f8f2e" stroke-width="2.8" stroke-linecap="butt" fill="none"/><path d="M684.3 234.4L689.4 235.1" stroke="#5db446" stroke-width="2.13" stroke-linecap="butt" fill="none"/><path d="M684.3 234.4L689.4 235.1" stroke="#9adf7c" stroke-width="0.84" stroke-linecap="butt" fill="none" opacity="0.75"/>
<path d="M684.3 234.0L678.6 240.8" stroke="#3f8f2e" stroke-width="5.4" stroke-linecap="round" fill="none"/><path d="M684.3 234.0L678.6 240.8" stroke="#5db446" stroke-width="4.10" stroke-linecap="round" fill="none"/><path d="M684.3 234.0L678.6 240.8" stroke="#9adf7c" stroke-width="1.62" stroke-linecap="round" fill="none" opacity="0.75"/>
<path d="M679.3 240.1L675.2 242.6" stroke="#7a1f18" stroke-width="4.4" stroke-linecap="round" fill="none"/><path d="M679.3 240.1L675.2 242.6" stroke="#b03326" stroke-width="3.34" stroke-linecap="round" fill="none"/><path d="M679.3 240.1L675.2 242.6" stroke="#d4675b" stroke-width="1.32" stroke-linecap="round" fill="none" opacity="0.75"/>
<path d="M680.2 217.6L684.3 234.0" stroke="#3f8f2e" stroke-width="5.4" stroke-linecap="round" fill="none"/><path d="M680.2 217.6L684.3 234.0" stroke="#5db446" stroke-width="4.10" stroke-linecap="round" fill="none"/><path d="M680.2 217.6L684.3 234.0" stroke="#9adf7c" stroke-width="1.62" stroke-linecap="round" fill="none" opacity="0.75"/>
<text transform="translate(432.9,96.7) scale(1,1.07)" font-size="12.9" text-anchor="middle" style="stroke:#111;stroke-width:0.4px">L30</text>
<text transform="translate(565.3,88.1) scale(1,1.07)" font-size="12.9" text-anchor="middle" style="stroke:#111;stroke-width:0.4px">C25</text>
<text transform="translate(572.0,134.0) scale(1,1.07)" font-size="12.9" text-anchor="middle" style="stroke:#111;stroke-width:0.4px">C34</text>
<text transform="translate(655.2,31.6) scale(1,1.07)" font-size="12.9" text-anchor="middle" style="stroke:#111;stroke-width:0.4px">L9</text>
<text transform="translate(705.9,58.1) scale(1,1.07)" font-size="12.9" text-anchor="middle" style="stroke:#111;stroke-width:0.4px">K10</text>
<text transform="translate(712.9,115.1) scale(1,1.07)" font-size="12.9" text-anchor="middle" style="stroke:#111;stroke-width:0.4px">N13</text>
<text transform="translate(558.8,188.8) scale(1,1.07)" font-size="12.9" text-anchor="middle" style="stroke:#111;stroke-width:0.4px">T37</text>
<text transform="translate(589.2,215.0) scale(1,1.07)" font-size="12.9" text-anchor="middle" style="stroke:#111;stroke-width:0.4px">C36</text>
<text transform="translate(626.5,246.8) scale(1,1.07)" font-size="12.9" text-anchor="middle" style="stroke:#111;stroke-width:0.4px">C39</text>
<rect x="634.0" y="147.0" width="29.0" height="14.0" fill="#fff"/><text transform="translate(646.8,159.1) scale(1,1.07)" font-size="12.9" text-anchor="middle" style="stroke:#111;stroke-width:0.4px">C15</text>
<text transform="translate(711.8,239.9) scale(1,1.07)" font-size="12.9" text-anchor="middle" style="stroke:#111;stroke-width:0.4px">S19</text>
</g>
<g id="panel-d">
<text x="420" y="320.5" font-size="15">d</text>
<path d="M592.4 346.5C593.9 344.3 598.6 344.6 602.6 344.3C606.6 343.9 611.7 344.1 616.2 344.3C620.7 344.4 626.0 344.6 629.8 345.4C633.6 346.1 637.8 346.5 638.9 348.8C640.0 351.1 637.8 356.2 636.6 359.0C635.5 361.8 634.4 364.3 632.1 365.8C629.8 367.3 626.8 367.5 623.0 368.1C619.2 368.7 613.7 369.2 609.4 369.2C605.0 369.2 599.6 370.0 596.9 368.1C594.3 366.2 594.3 361.5 593.5 357.9C592.7 354.3 590.9 348.8 592.4 346.5Z" fill="url(#gw1)" stroke="#d0d0d0" stroke-width="0.5" opacity="1"/>
<path d="M572.8 426.5C570.7 426.3 564.6 425.9 560.3 425.3C555.9 424.8 550.6 424.4 546.7 423.1C542.7 421.7 539.3 420.0 536.5 417.4C533.6 414.7 531.5 411.1 529.7 407.2C527.8 403.2 526.2 397.7 525.1 393.5C524.0 389.4 523.1 385.2 522.8 382.2C522.6 379.2 523.9 376.9 523.5 375.4C523.1 373.9 522.8 374.6 520.6 373.1C518.4 371.6 514.3 368.6 510.4 366.3C506.4 364.0 501.3 360.7 496.7 359.5C492.2 358.3 487.3 357.9 483.1 359.1C479.0 360.2 474.4 363.2 471.8 366.3C469.1 369.4 467.9 374.1 467.2 377.7C466.6 381.3 467.9 384.8 467.7 387.9C467.5 390.9 467.1 393.0 466.1 395.8C465.1 398.7 463.3 402.4 461.6 404.9C459.9 407.4 457.4 409.9 455.9 410.6C454.4 411.3 452.8 410.3 452.5 409.0C452.2 407.7 452.9 404.7 454.1 402.6C455.2 400.5 457.5 398.2 459.3 396.3C461.1 394.3 463.1 392.6 465.0 390.8C466.9 389.0 468.2 387.2 470.6 385.6C473.1 384.0 476.5 381.6 479.7 381.1C482.9 380.5 487.1 380.9 489.9 382.2C492.8 383.5 494.8 386.0 496.7 389.0C498.6 392.0 499.4 397.1 501.3 400.4C503.2 403.6 505.4 406.6 508.1 408.3C510.7 410.0 514.1 411.0 517.2 410.6C520.2 410.2 523.4 408.1 526.2 406.0C529.1 404.0 531.7 400.2 534.2 398.1C536.6 396.0 538.5 394.3 541.0 393.5C543.5 392.8 547.6 393.5 548.9 393.5" fill="none" stroke="#b6bfe7" stroke-width="3.9" stroke-linecap="round" stroke-linejoin="round" opacity="1"/><path d="M572.8 426.5C570.7 426.3 564.6 425.9 560.3 425.3C555.9 424.8 550.6 424.4 546.7 423.1C542.7 421.7 539.3 420.0 536.5 417.4C533.6 414.7 531.5 411.1 529.7 407.2C527.8 403.2 526.2 397.7 525.1 393.5C524.0 389.4 523.1 385.2 522.8 382.2C522.6 379.2 523.9 376.9 523.5 375.4C523.1 373.9 522.8 374.6 520.6 373.1C518.4 371.6 514.3 368.6 510.4 366.3C506.4 364.0 501.3 360.7 496.7 359.5C492.2 358.3 487.3 357.9 483.1 359.1C479.0 360.2 474.4 363.2 471.8 366.3C469.1 369.4 467.9 374.1 467.2 377.7C466.6 381.3 467.9 384.8 467.7 387.9C467.5 390.9 467.1 393.0 466.1 395.8C465.1 398.7 463.3 402.4 461.6 404.9C459.9 407.4 457.4 409.9 455.9 410.6C454.4 411.3 452.8 410.3 452.5 409.0C452.2 407.7 452.9 404.7 454.1 402.6C455.2 400.5 457.5 398.2 459.3 396.3C461.1 394.3 463.1 392.6 465.0 390.8C466.9 389.0 468.2 387.2 470.6 385.6C473.1 384.0 476.5 381.6 479.7 381.1C482.9 380.5 487.1 380.9 489.9 382.2C492.8 383.5 494.8 386.0 496.7 389.0C498.6 392.0 499.4 397.1 501.3 400.4C503.2 403.6 505.4 406.6 508.1 408.3C510.7 410.0 514.1 411.0 517.2 410.6C520.2 410.2 523.4 408.1 526.2 406.0C529.1 404.0 531.7 400.2 534.2 398.1C536.6 396.0 538.5 394.3 541.0 393.5C543.5 392.8 547.6 393.5 548.9 393.5" fill="none" stroke="#bdc6ea" stroke-width="2.57" stroke-linecap="round" stroke-linejoin="round"/><path d="M572.8 426.5C570.7 426.3 564.6 425.9 560.3 425.3C555.9 424.8 550.6 424.4 546.7 423.1C542.7 421.7 539.3 420.0 536.5 417.4C533.6 414.7 531.5 411.1 529.7 407.2C527.8 403.2 526.2 397.7 525.1 393.5C524.0 389.4 523.1 385.2 522.8 382.2C522.6 379.2 523.9 376.9 523.5 375.4C523.1 373.9 522.8 374.6 520.6 373.1C518.4 371.6 514.3 368.6 510.4 366.3C506.4 364.0 501.3 360.7 496.7 359.5C492.2 358.3 487.3 357.9 483.1 359.1C479.0 360.2 474.4 363.2 471.8 366.3C469.1 369.4 467.9 374.1 467.2 377.7C466.6 381.3 467.9 384.8 467.7 387.9C467.5 390.9 467.1 393.0 466.1 395.8C465.1 398.7 463.3 402.4 461.6 404.9C459.9 407.4 457.4 409.9 455.9 410.6C454.4 411.3 452.8 410.3 452.5 409.0C452.2 407.7 452.9 404.7 454.1 402.6C455.2 400.5 457.5 398.2 459.3 396.3C461.1 394.3 463.1 392.6 465.0 390.8C466.9 389.0 468.2 387.2 470.6 385.6C473.1 384.0 476.5 381.6 479.7 381.1C482.9 380.5 487.1 380.9 489.9 382.2C492.8 383.5 494.8 386.0 496.7 389.0C498.6 392.0 499.4 397.1 501.3 400.4C503.2 403.6 505.4 406.6 508.1 408.3C510.7 410.0 514.1 411.0 517.2 410.6C520.2 410.2 523.4 408.1 526.2 406.0C529.1 404.0 531.7 400.2 534.2 398.1C536.6 396.0 538.5 394.3 541.0 393.5C543.5 392.8 547.6 393.5 548.9 393.5" fill="none" stroke="#cad2f0" stroke-width="1.17" stroke-linecap="round" stroke-linejoin="round"/>
<path d="M625.8 430.5C627.4 431.5 632.3 434.9 635.1 436.7C637.8 438.4 640.2 439.4 642.3 440.8C644.4 442.2 646.6 444.2 647.5 444.9" fill="none" stroke="#b6bfe7" stroke-width="3.9" stroke-linecap="round" stroke-linejoin="round" opacity="1"/><path d="M625.8 430.5C627.4 431.5 632.3 434.9 635.1 436.7C637.8 438.4 640.2 439.4 642.3 440.8C644.4 442.2 646.6 444.2 647.5 444.9" fill="none" stroke="#bdc6ea" stroke-width="2.57" stroke-linecap="round" stroke-linejoin="round"/><path d="M625.8 430.5C627.4 431.5 632.3 434.9 635.1 436.7C637.8 438.4 640.2 439.4 642.3 440.8C644.4 442.2 646.6 444.2 647.5 444.9" fill="none" stroke="#cad2f0" stroke-width="1.17" stroke-linecap="round" stroke-linejoin="round"/>
<path d="M590.1 473.8C591.8 474.5 596.9 476.2 600.3 478.3C603.7 480.4 607.3 483.2 610.5 486.2C613.7 489.3 616.4 493.4 619.6 496.5C622.8 499.5 626.2 502.5 629.8 504.4C633.4 506.3 637.6 507.1 641.2 507.8C644.8 508.6 649.3 508.4 651.4 508.9C653.5 509.5 652.4 509.4 653.6 510.9C654.9 512.5 657.9 515.7 658.9 518.4C659.9 521.2 660.1 524.1 659.6 527.4C659.1 530.6 657.4 534.6 655.9 537.8C654.4 541.1 651.9 543.8 650.7 546.8C649.4 549.8 648.5 552.8 648.4 555.8C648.3 558.8 648.7 562.4 649.9 564.8C651.2 567.1 653.6 569.5 655.9 570.0C658.1 570.5 661.2 569.4 663.4 567.8C665.5 566.1 667.3 562.9 668.6 560.3C669.9 557.7 670.7 553.4 671.1 552.1" fill="none" stroke="#b6bfe7" stroke-width="3.9" stroke-linecap="round" stroke-linejoin="round" opacity="1"/><path d="M590.1 473.8C591.8 474.5 596.9 476.2 600.3 478.3C603.7 480.4 607.3 483.2 610.5 486.2C613.7 489.3 616.4 493.4 619.6 496.5C622.8 499.5 626.2 502.5 629.8 504.4C633.4 506.3 637.6 507.1 641.2 507.8C644.8 508.6 649.3 508.4 651.4 508.9C653.5 509.5 652.4 509.4 653.6 510.9C654.9 512.5 657.9 515.7 658.9 518.4C659.9 521.2 660.1 524.1 659.6 527.4C659.1 530.6 657.4 534.6 655.9 537.8C654.4 541.1 651.9 543.8 650.7 546.8C649.4 549.8 648.5 552.8 648.4 555.8C648.3 558.8 648.7 562.4 649.9 564.8C651.2 567.1 653.6 569.5 655.9 570.0C658.1 570.5 661.2 569.4 663.4 567.8C665.5 566.1 667.3 562.9 668.6 560.3C669.9 557.7 670.7 553.4 671.1 552.1" fill="none" stroke="#bdc6ea" stroke-width="2.57" stroke-linecap="round" stroke-linejoin="round"/><path d="M590.1 473.8C591.8 474.5 596.9 476.2 600.3 478.3C603.7 480.4 607.3 483.2 610.5 486.2C613.7 489.3 616.4 493.4 619.6 496.5C622.8 499.5 626.2 502.5 629.8 504.4C633.4 506.3 637.6 507.1 641.2 507.8C644.8 508.6 649.3 508.4 651.4 508.9C653.5 509.5 652.4 509.4 653.6 510.9C654.9 512.5 657.9 515.7 658.9 518.4C659.9 521.2 660.1 524.1 659.6 527.4C659.1 530.6 657.4 534.6 655.9 537.8C654.4 541.1 651.9 543.8 650.7 546.8C649.4 549.8 648.5 552.8 648.4 555.8C648.3 558.8 648.7 562.4 649.9 564.8C651.2 567.1 653.6 569.5 655.9 570.0C658.1 570.5 661.2 569.4 663.4 567.8C665.5 566.1 667.3 562.9 668.6 560.3C669.9 557.7 670.7 553.4 671.1 552.1" fill="none" stroke="#cad2f0" stroke-width="1.17" stroke-linecap="round" stroke-linejoin="round"/>
<path d="M643.4 453.3C644.3 455.6 647.9 463.0 648.4 467.0C649.0 470.9 646.5 474.0 646.8 477.2C647.1 480.4 648.2 483.6 650.2 486.2C652.3 488.9 655.9 491.2 659.3 493.1C662.7 494.9 667.5 496.2 670.7 497.6C673.9 499.0 677.3 500.8 678.6 501.5" fill="none" stroke="#b6bfe7" stroke-width="3.9" stroke-linecap="round" stroke-linejoin="round" opacity="1"/><path d="M643.4 453.3C644.3 455.6 647.9 463.0 648.4 467.0C649.0 470.9 646.5 474.0 646.8 477.2C647.1 480.4 648.2 483.6 650.2 486.2C652.3 488.9 655.9 491.2 659.3 493.1C662.7 494.9 667.5 496.2 670.7 497.6C673.9 499.0 677.3 500.8 678.6 501.5" fill="none" stroke="#bdc6ea" stroke-width="2.57" stroke-linecap="round" stroke-linejoin="round"/><path d="M643.4 453.3C644.3 455.6 647.9 463.0 648.4 467.0C649.0 470.9 646.5 474.0 646.8 477.2C647.1 480.4 648.2 483.6 650.2 486.2C652.3 488.9 655.9 491.2 659.3 493.1C662.7 494.9 667.5 496.2 670.7 497.6C673.9 499.0 677.3 500.8 678.6 501.5" fill="none" stroke="#cad2f0" stroke-width="1.17" stroke-linecap="round" stroke-linejoin="round"/>
<path d="M549.6 394.0L563.0 405.8L575.7 418.1L579.5 417.7L620.7 438.1L624.4 439.3L620.7 441.0L578.4 421.2L574.3 421.6L560.9 408.8L548.5 396.1Z" fill="#ececec" stroke="#dcdcdc" stroke-width="0.5" stroke-linejoin="round"/>
<path d="M564.0 435.2L573.3 424.9L567.5 438.1L575.7 464.5L573.3 467.6L571.2 468.6L572.2 465.5L565.0 439.8Z" fill="#ececec" stroke="#dcdcdc" stroke-width="0.5" stroke-linejoin="round"/>
<path d="M550.6 392.8L572.2 394.4L573.7 398.5L591.8 406.8L612.4 417.1L626.8 424.3L624.8 435.6L620.7 437.7L598.0 426.4L579.5 417.1L576.4 417.5L563.0 404.7L550.6 394.0Z" fill="#b6c0e4" stroke="#b1bbe0" stroke-width="0.5" stroke-linejoin="round"/>
<path d="M573.7 424.3L579.0 422.2L591.8 451.1L596.4 452.1L589.8 473.1L573.3 467.6L575.7 464.5L567.5 438.1Z" fill="#b6c0e4" stroke="#b1bbe0" stroke-width="0.5" stroke-linejoin="round"/>
<path d="M623.5 420.3C623.7 418.6 626.9 415.0 629.8 411.2C632.8 407.4 637.6 401.0 641.2 397.6C644.8 394.2 648.0 391.9 651.4 390.8C654.8 389.7 658.6 389.8 661.6 390.8C664.6 391.7 668.1 394.8 669.5 396.5C671.0 398.2 671.2 399.3 670.2 401.0C669.3 402.7 666.8 404.6 663.9 406.7C660.9 408.8 656.7 411.6 652.5 413.5C648.4 415.4 642.9 416.7 638.9 418.0C634.9 419.3 631.3 421.0 628.7 421.4C626.1 421.8 623.3 422.0 623.5 420.3Z" fill="url(#gw2)" stroke="#d4d4d4" stroke-width="0.5" opacity="1"/>
<path d="M651.4 466.3C649.9 465.9 652.3 463.1 654.8 460.1C657.2 457.2 662.4 452.4 666.1 448.8C669.9 445.2 674.1 440.5 677.5 438.6C680.9 436.7 683.9 436.7 686.6 437.4C689.2 438.2 691.8 441.0 693.4 443.1C695.0 445.3 696.8 448.5 696.1 450.4C695.3 452.3 691.9 453.2 688.8 454.5C685.7 455.7 681.6 456.6 677.5 457.9C673.3 459.2 668.2 461.0 663.9 462.4C659.5 463.8 652.9 466.7 651.4 466.3Z" fill="url(#gw3)" stroke="#d4d4d4" stroke-width="0.5" opacity="1"/>
<path d="M632.1 365.8C634.4 361.5 636.6 350.7 638.9 348.8C641.2 346.9 643.6 351.6 645.7 354.5C647.8 357.3 650.1 362.0 651.4 365.8C652.7 369.6 653.7 373.8 653.7 377.2C653.7 380.6 653.5 382.8 651.4 386.2C649.3 389.7 644.8 393.4 641.2 397.6C637.6 401.8 632.8 407.4 629.8 411.2C626.8 415.0 624.9 420.7 623.0 420.3C621.1 419.9 619.6 412.7 618.5 408.9C617.3 405.2 616.2 401.4 616.2 397.6C616.2 393.8 617.0 390.0 618.5 386.2C620.0 382.5 623.0 378.3 625.3 374.9C627.5 371.5 629.8 370.2 632.1 365.8Z" fill="url(#gb1)" stroke="#a9b4de" stroke-width="0.5" opacity="1"/>
<path d="M595.8 365.8C595.4 364.7 594.1 361.3 593.5 359.0C592.9 356.7 592.0 354.5 592.4 352.2C592.7 349.9 594.1 347.7 595.8 345.4C597.5 343.1 600.9 341.4 602.6 338.6C604.3 335.7 606.0 331.6 606.0 328.4C606.0 325.2 604.7 321.9 602.6 319.3C600.5 316.6 596.9 314.0 593.5 312.5C590.1 311.0 585.9 310.0 582.2 310.2C578.4 310.4 573.8 311.9 570.8 313.6C567.8 315.3 566.3 318.0 564.0 320.4C561.7 322.9 558.7 325.7 557.2 328.4C555.6 331.0 555.0 333.7 554.7 336.3C554.4 339.0 554.4 341.5 555.4 344.3C556.3 347.0 557.7 349.7 560.4 352.7C563.1 355.6 567.3 359.2 571.5 361.7C575.7 364.2 580.8 366.2 585.3 367.6C589.9 369.1 594.9 369.5 599.0 370.4C603.0 371.2 606.1 371.3 609.4 372.6C612.6 374.0 616.0 375.8 618.5 378.3C620.9 380.8 622.8 384.2 624.1 387.4C625.5 390.6 626.3 394.2 626.4 397.6C626.5 401.0 625.8 404.6 624.8 407.8C623.9 411.0 622.7 414.4 620.7 416.9C618.7 419.3 615.8 421.4 612.8 422.6C609.8 423.7 602.6 423.6 602.6 423.7C602.5 423.8 613.2 423.7 612.4 423.3C611.7 422.9 603.7 422.8 598.0 421.2C592.3 419.7 581.7 415.2 578.4 414.0" fill="none" stroke="#b6bfe7" stroke-width="3.9" stroke-linecap="round" stroke-linejoin="round" opacity="1"/><path d="M595.8 365.8C595.4 364.7 594.1 361.3 593.5 359.0C592.9 356.7 592.0 354.5 592.4 352.2C592.7 349.9 594.1 347.7 595.8 345.4C597.5 343.1 600.9 341.4 602.6 338.6C604.3 335.7 606.0 331.6 606.0 328.4C606.0 325.2 604.7 321.9 602.6 319.3C600.5 316.6 596.9 314.0 593.5 312.5C590.1 311.0 585.9 310.0 582.2 310.2C578.4 310.4 573.8 311.9 570.8 313.6C567.8 315.3 566.3 318.0 564.0 320.4C561.7 322.9 558.7 325.7 557.2 328.4C555.6 331.0 555.0 333.7 554.7 336.3C554.4 339.0 554.4 341.5 555.4 344.3C556.3 347.0 557.7 349.7 560.4 352.7C563.1 355.6 567.3 359.2 571.5 361.7C575.7 364.2 580.8 366.2 585.3 367.6C589.9 369.1 594.9 369.5 599.0 370.4C603.0 371.2 606.1 371.3 609.4 372.6C612.6 374.0 616.0 375.8 618.5 378.3C620.9 380.8 622.8 384.2 624.1 387.4C625.5 390.6 626.3 394.2 626.4 397.6C626.5 401.0 625.8 404.6 624.8 407.8C623.9 411.0 622.7 414.4 620.7 416.9C618.7 419.3 615.8 421.4 612.8 422.6C609.8 423.7 602.6 423.6 602.6 423.7C602.5 423.8 613.2 423.7 612.4 423.3C611.7 422.9 603.7 422.8 598.0 421.2C592.3 419.7 581.7 415.2 578.4 414.0" fill="none" stroke="#bdc6ea" stroke-width="2.57" stroke-linecap="round" stroke-linejoin="round"/><path d="M595.8 365.8C595.4 364.7 594.1 361.3 593.5 359.0C592.9 356.7 592.0 354.5 592.4 352.2C592.7 349.9 594.1 347.7 595.8 345.4C597.5 343.1 600.9 341.4 602.6 338.6C604.3 335.7 606.0 331.6 606.0 328.4C606.0 325.2 604.7 321.9 602.6 319.3C600.5 316.6 596.9 314.0 593.5 312.5C590.1 311.0 585.9 310.0 582.2 310.2C578.4 310.4 573.8 311.9 570.8 313.6C567.8 315.3 566.3 318.0 564.0 320.4C561.7 322.9 558.7 325.7 557.2 328.4C555.6 331.0 555.0 333.7 554.7 336.3C554.4 339.0 554.4 341.5 555.4 344.3C556.3 347.0 557.7 349.7 560.4 352.7C563.1 355.6 567.3 359.2 571.5 361.7C575.7 364.2 580.8 366.2 585.3 367.6C589.9 369.1 594.9 369.5 599.0 370.4C603.0 371.2 606.1 371.3 609.4 372.6C612.6 374.0 616.0 375.8 618.5 378.3C620.9 380.8 622.8 384.2 624.1 387.4C625.5 390.6 626.3 394.2 626.4 397.6C626.5 401.0 625.8 404.6 624.8 407.8C623.9 411.0 622.7 414.4 620.7 416.9C618.7 419.3 615.8 421.4 612.8 422.6C609.8 423.7 602.6 423.6 602.6 423.7C602.5 423.8 613.2 423.7 612.4 423.3C611.7 422.9 603.7 422.8 598.0 421.2C592.3 419.7 581.7 415.2 578.4 414.0" fill="none" stroke="#cad2f0" stroke-width="1.17" stroke-linecap="round" stroke-linejoin="round"/>
<path d="M663.9 406.7C665.9 402.7 667.3 396.8 669.5 396.5C671.8 396.1 675.2 401.2 677.5 404.4C679.8 407.6 682.2 412.7 683.2 415.8C684.1 418.8 684.1 419.3 683.2 422.7C682.2 426.1 680.3 431.8 677.5 436.3C674.6 440.9 669.9 445.8 666.1 449.9C662.4 454.1 657.2 458.6 654.8 461.3C652.3 464.0 653.3 467.7 651.4 466.3C649.5 464.8 645.5 456.7 643.4 452.7C641.4 448.6 639.1 444.5 638.9 442.0C638.7 439.5 640.0 440.7 642.3 437.4C644.6 434.2 650.1 425.6 652.5 422.7C655.0 419.8 655.2 423.0 657.1 420.3C658.9 417.6 661.8 410.6 663.9 406.7Z" fill="url(#gb1)" stroke="#a9b4de" stroke-width="0.5" opacity="1"/>
<path d="M693.4 443.1C694.2 443.9 698.1 452.6 700.2 456.7C702.3 460.9 704.7 464.3 705.9 468.1C707.0 471.9 707.6 475.7 707.0 479.4C706.4 483.2 704.7 487.4 702.4 490.8C700.2 494.2 696.0 497.4 693.4 499.9C690.7 502.3 687.7 504.6 686.6 505.5C685.4 506.5 688.1 506.5 686.6 505.5C685.0 504.6 680.7 502.5 677.5 499.9C674.3 497.2 669.0 491.4 667.3 489.7C665.6 487.9 665.8 491.4 667.3 489.7C668.8 487.9 673.1 483.4 676.3 479.4C679.6 475.5 683.4 470.4 686.6 465.8C689.7 461.3 694.0 456.0 695.2 452.2C696.3 448.4 692.5 442.4 693.4 443.1Z" fill="url(#gb1)" stroke="#a9b4de" stroke-width="0.5" opacity="1"/>
<path d="M635.4 308.7L633.0 304.6" stroke="#a8a8a8" stroke-width="2.8" stroke-linecap="round" fill="none"/><path d="M635.4 308.7L633.0 304.6" stroke="#eeeeee" stroke-width="2.13" stroke-linecap="round" fill="none"/><path d="M635.4 308.7L633.0 304.6" stroke="#ffffff" stroke-width="0.84" stroke-linecap="round" fill="none" opacity="0.75"/><path d="M637.8 312.8L635.4 308.7" stroke="#3f8f2e" stroke-width="2.8" stroke-linecap="butt" fill="none"/><path d="M637.8 312.8L635.4 308.7" stroke="#5db446" stroke-width="2.13" stroke-linecap="butt" fill="none"/><path d="M637.8 312.8L635.4 308.7" stroke="#9adf7c" stroke-width="0.84" stroke-linecap="butt" fill="none" opacity="0.75"/>
<path d="M629.6 322.4L624.8 321.9" stroke="#a8a8a8" stroke-width="2.8" stroke-linecap="round" fill="none"/><path d="M629.6 322.4L624.8 321.9" stroke="#eeeeee" stroke-width="2.13" stroke-linecap="round" fill="none"/><path d="M629.6 322.4L624.8 321.9" stroke="#ffffff" stroke-width="0.84" stroke-linecap="round" fill="none" opacity="0.75"/><path d="M634.4 322.9L629.6 322.4" stroke="#3f8f2e" stroke-width="2.8" stroke-linecap="butt" fill="none"/><path d="M634.4 322.9L629.6 322.4" stroke="#5db446" stroke-width="2.13" stroke-linecap="butt" fill="none"/><path d="M634.4 322.9L629.6 322.4" stroke="#9adf7c" stroke-width="0.84" stroke-linecap="butt" fill="none" opacity="0.75"/>
<path d="M666.1 328.1L670.9 328.6" stroke="#a8a8a8" stroke-width="2.8" stroke-linecap="round" fill="none"/><path d="M666.1 328.1L670.9 328.6" stroke="#eeeeee" stroke-width="2.13" stroke-linecap="round" fill="none"/><path d="M666.1 328.1L670.9 328.6" stroke="#ffffff" stroke-width="0.84" stroke-linecap="round" fill="none" opacity="0.75"/><path d="M661.3 327.7L666.1 328.1" stroke="#3f8f2e" stroke-width="2.8" stroke-linecap="butt" fill="none"/><path d="M661.3 327.7L666.1 328.1" stroke="#5db446" stroke-width="2.13" stroke-linecap="butt" fill="none"/><path d="M661.3 327.7L666.1 328.1" stroke="#9adf7c" stroke-width="0.84" stroke-linecap="butt" fill="none" opacity="0.75"/>
<path d="M659.4 341.1L661.8 345.0" stroke="#a8a8a8" stroke-width="2.8" stroke-linecap="round" fill="none"/><path d="M659.4 341.1L661.8 345.0" stroke="#eeeeee" stroke-width="2.13" stroke-linecap="round" fill="none"/><path d="M659.4 341.1L661.8 345.0" stroke="#ffffff" stroke-width="0.84" stroke-linecap="round" fill="none" opacity="0.75"/><path d="M657.0 337.3L659.4 341.1" stroke="#3f8f2e" stroke-width="2.8" stroke-linecap="butt" fill="none"/><path d="M657.0 337.3L659.4 341.1" stroke="#5db446" stroke-width="2.13" stroke-linecap="butt" fill="none"/><path d="M657.0 337.3L659.4 341.1" stroke="#9adf7c" stroke-width="0.84" stroke-linecap="butt" fill="none" opacity="0.75"/>
<path d="M634.0 343.1L631.0 340.9" stroke="#a8a8a8" stroke-width="2.8" stroke-linecap="round" fill="none"/><path d="M634.0 343.1L631.0 340.9" stroke="#eeeeee" stroke-width="2.13" stroke-linecap="round" fill="none"/><path d="M634.0 343.1L631.0 340.9" stroke="#ffffff" stroke-width="0.84" stroke-linecap="round" fill="none" opacity="0.75"/><path d="M637.1 345.4L634.0 343.1" stroke="#3f8f2e" stroke-width="2.8" stroke-linecap="butt" fill="none"/><path d="M637.1 345.4L634.0 343.1" stroke="#5db446" stroke-width="2.13" stroke-linecap="butt" fill="none"/><path d="M637.1 345.4L634.0 343.1" stroke="#9adf7c" stroke-width="0.84" stroke-linecap="butt" fill="none" opacity="0.75"/>
<path d="M642.9 347.7L645.7 348.8" stroke="#a8a8a8" stroke-width="2.8" stroke-linecap="round" fill="none"/><path d="M642.9 347.7L645.7 348.8" stroke="#eeeeee" stroke-width="2.13" stroke-linecap="round" fill="none"/><path d="M642.9 347.7L645.7 348.8" stroke="#ffffff" stroke-width="0.84" stroke-linecap="round" fill="none" opacity="0.75"/><path d="M640.0 346.5L642.9 347.7" stroke="#3f8f2e" stroke-width="2.8" stroke-linecap="butt" fill="none"/><path d="M640.0 346.5L642.9 347.7" stroke="#5db446" stroke-width="2.13" stroke-linecap="butt" fill="none"/><path d="M640.0 346.5L642.9 347.7" stroke="#9adf7c" stroke-width="0.84" stroke-linecap="butt" fill="none" opacity="0.75"/>
<path d="M659.4 306.3L667.1 308.0" stroke="#a8a8a8" stroke-width="2.4" stroke-linecap="round" fill="none"/><path d="M659.4 306.3L667.1 308.0" stroke="#eeeeee" stroke-width="1.82" stroke-linecap="round" fill="none"/><path d="M659.4 306.3L667.1 308.0" stroke="#ffffff" stroke-width="0.72" stroke-linecap="round" fill="none" opacity="0.75"/>
<path d="M631.6 356.7L641.2 339.0" stroke="#3f8f2e" stroke-width="5.4" stroke-linecap="round" fill="none"/><path d="M631.6 356.7L641.2 339.0" stroke="#5db446" stroke-width="4.10" stroke-linecap="round" fill="none"/><path d="M631.6 356.7L641.2 339.0" stroke="#9adf7c" stroke-width="1.62" stroke-linecap="round" fill="none" opacity="0.75"/>
<path d="M642.6 334.9L657.0 337.3" stroke="#3f8f2e" stroke-width="4.6" stroke-linecap="round" fill="none"/><path d="M642.6 334.9L657.0 337.3" stroke="#5db446" stroke-width="3.50" stroke-linecap="round" fill="none"/><path d="M642.6 334.9L657.0 337.3" stroke="#9adf7c" stroke-width="1.38" stroke-linecap="round" fill="none" opacity="0.75"/>
<path d="M657.0 337.3L661.3 327.7" stroke="#3f8f2e" stroke-width="4.6" stroke-linecap="round" fill="none"/><path d="M657.0 337.3L661.3 327.7" stroke="#5db446" stroke-width="3.50" stroke-linecap="round" fill="none"/><path d="M657.0 337.3L661.3 327.7" stroke="#9adf7c" stroke-width="1.38" stroke-linecap="round" fill="none" opacity="0.75"/>
<path d="M661.3 327.7L653.1 315.2" stroke="#3f8f2e" stroke-width="4.6" stroke-linecap="round" fill="none"/><path d="M661.3 327.7L653.1 315.2" stroke="#5db446" stroke-width="3.50" stroke-linecap="round" fill="none"/><path d="M661.3 327.7L653.1 315.2" stroke="#9adf7c" stroke-width="1.38" stroke-linecap="round" fill="none" opacity="0.75"/>
<path d="M653.1 315.2L637.8 312.8" stroke="#3f8f2e" stroke-width="4.6" stroke-linecap="round" fill="none"/><path d="M653.1 315.2L637.8 312.8" stroke="#5db446" stroke-width="3.50" stroke-linecap="round" fill="none"/><path d="M653.1 315.2L637.8 312.8" stroke="#9adf7c" stroke-width="1.38" stroke-linecap="round" fill="none" opacity="0.75"/>
<path d="M637.8 312.8L634.4 322.9" stroke="#3f8f2e" stroke-width="4.6" stroke-linecap="round" fill="none"/><path d="M637.8 312.8L634.4 322.9" stroke="#5db446" stroke-width="3.50" stroke-linecap="round" fill="none"/><path d="M637.8 312.8L634.4 322.9" stroke="#9adf7c" stroke-width="1.38" stroke-linecap="round" fill="none" opacity="0.75"/>
<path d="M634.4 322.9L642.6 334.9" stroke="#3f8f2e" stroke-width="4.6" stroke-linecap="round" fill="none"/><path d="M634.4 322.9L642.6 334.9" stroke="#5db446" stroke-width="3.50" stroke-linecap="round" fill="none"/><path d="M634.4 322.9L642.6 334.9" stroke="#9adf7c" stroke-width="1.38" stroke-linecap="round" fill="none" opacity="0.75"/>
<path d="M645.3 332.5L653.3 333.8" stroke="#3f8f2e" stroke-width="3.4" stroke-linecap="round" fill="none"/><path d="M645.3 332.5L653.3 333.8" stroke="#5db446" stroke-width="2.58" stroke-linecap="round" fill="none"/><path d="M645.3 332.5L653.3 333.8" stroke="#9adf7c" stroke-width="1.02" stroke-linecap="round" fill="none" opacity="0.75"/>
<path d="M657.0 325.9L652.4 319.0" stroke="#3f8f2e" stroke-width="3.4" stroke-linecap="round" fill="none"/><path d="M657.0 325.9L652.4 319.0" stroke="#5db446" stroke-width="2.58" stroke-linecap="round" fill="none"/><path d="M657.0 325.9L652.4 319.0" stroke="#9adf7c" stroke-width="1.02" stroke-linecap="round" fill="none" opacity="0.75"/>
<path d="M640.2 317.0L638.3 322.6" stroke="#3f8f2e" stroke-width="3.4" stroke-linecap="round" fill="none"/><path d="M640.2 317.0L638.3 322.6" stroke="#5db446" stroke-width="2.58" stroke-linecap="round" fill="none"/><path d="M640.2 317.0L638.3 322.6" stroke="#9adf7c" stroke-width="1.02" stroke-linecap="round" fill="none" opacity="0.75"/>
<path d="M653.6 314.2L657.7 305.4" stroke="#a8281e" stroke-width="4.8" stroke-linecap="round" fill="none"/><path d="M653.6 314.2L657.7 305.4" stroke="#e3402f" stroke-width="3.65" stroke-linecap="round" fill="none"/><path d="M653.6 314.2L657.7 305.4" stroke="#f2857a" stroke-width="1.44" stroke-linecap="round" fill="none" opacity="0.75"/>
<path d="M679.1 525.9L671.6 527.4" stroke="#a8a8a8" stroke-width="2.4" stroke-linecap="round" fill="none"/><path d="M679.1 525.9L671.6 527.4" stroke="#eeeeee" stroke-width="1.82" stroke-linecap="round" fill="none"/><path d="M679.1 525.9L671.6 527.4" stroke="#ffffff" stroke-width="0.72" stroke-linecap="round" fill="none" opacity="0.75"/>
<path d="M677.6 519.9L673.1 521.4" stroke="#a8a8a8" stroke-width="2.4" stroke-linecap="round" fill="none"/><path d="M677.6 519.9L673.1 521.4" stroke="#eeeeee" stroke-width="1.82" stroke-linecap="round" fill="none"/><path d="M677.6 519.9L673.1 521.4" stroke="#ffffff" stroke-width="0.72" stroke-linecap="round" fill="none" opacity="0.75"/><path d="M682.1 518.4L677.6 519.9" stroke="#3f8f2e" stroke-width="2.4" stroke-linecap="butt" fill="none"/><path d="M682.1 518.4L677.6 519.9" stroke="#5db446" stroke-width="1.82" stroke-linecap="butt" fill="none"/><path d="M682.1 518.4L677.6 519.9" stroke="#9adf7c" stroke-width="0.72" stroke-linecap="butt" fill="none" opacity="0.75"/>
<path d="M705.2 523.0L709.7 521.4" stroke="#a8a8a8" stroke-width="2.4" stroke-linecap="round" fill="none"/><path d="M705.2 523.0L709.7 521.4" stroke="#eeeeee" stroke-width="1.82" stroke-linecap="round" fill="none"/><path d="M705.2 523.0L709.7 521.4" stroke="#ffffff" stroke-width="0.72" stroke-linecap="round" fill="none" opacity="0.75"/><path d="M700.7 524.7L705.2 523.0" stroke="#3f8f2e" stroke-width="2.4" stroke-linecap="butt" fill="none"/><path d="M700.7 524.7L705.2 523.0" stroke="#5db446" stroke-width="1.82" stroke-linecap="butt" fill="none"/><path d="M700.7 524.7L705.2 523.0" stroke="#9adf7c" stroke-width="0.72" stroke-linecap="butt" fill="none" opacity="0.75"/>
<path d="M688.0 532.6L680.6 526.6" stroke="#172f86" stroke-width="4.0" stroke-linecap="round" fill="none"/><path d="M688.0 532.6L680.6 526.6" stroke="#2346c0" stroke-width="3.04" stroke-linecap="round" fill="none"/><path d="M688.0 532.6L680.6 526.6" stroke="#5b77dd" stroke-width="1.20" stroke-linecap="round" fill="none" opacity="0.75"/>
<path d="M702.2 529.6L694.8 530.7" stroke="#172f86" stroke-width="4.0" stroke-linecap="round" fill="none"/><path d="M702.2 529.6L694.8 530.7" stroke="#2346c0" stroke-width="3.04" stroke-linecap="round" fill="none"/><path d="M702.2 529.6L694.8 530.7" stroke="#5b77dd" stroke-width="1.20" stroke-linecap="round" fill="none" opacity="0.75"/>
<path d="M694.8 530.7L688.0 532.9" stroke="#3f8f2e" stroke-width="4.0" stroke-linecap="round" fill="none"/><path d="M694.8 530.7L688.0 532.9" stroke="#5db446" stroke-width="3.04" stroke-linecap="round" fill="none"/><path d="M694.8 530.7L688.0 532.9" stroke="#9adf7c" stroke-width="1.20" stroke-linecap="round" fill="none" opacity="0.75"/>
<path d="M700.7 525.1L702.2 529.2" stroke="#3f8f2e" stroke-width="4.0" stroke-linecap="round" fill="none"/><path d="M700.7 525.1L702.2 529.2" stroke="#5db446" stroke-width="3.04" stroke-linecap="round" fill="none"/><path d="M700.7 525.1L702.2 529.2" stroke="#9adf7c" stroke-width="1.20" stroke-linecap="round" fill="none" opacity="0.75"/>
<path d="M682.1 518.4L682.8 525.9" stroke="#3f8f2e" stroke-width="4.0" stroke-linecap="round" fill="none"/><path d="M682.1 518.4L682.8 525.9" stroke="#5db446" stroke-width="3.04" stroke-linecap="round" fill="none"/><path d="M682.1 518.4L682.8 525.9" stroke="#9adf7c" stroke-width="1.20" stroke-linecap="round" fill="none" opacity="0.75"/>
<path d="M682.1 518.1L700.7 525.1" stroke="#3f8f2e" stroke-width="4.4" stroke-linecap="round" fill="none"/><path d="M682.1 518.1L700.7 525.1" stroke="#5db446" stroke-width="3.34" stroke-linecap="round" fill="none"/><path d="M682.1 518.1L700.7 525.1" stroke="#9adf7c" stroke-width="1.32" stroke-linecap="round" fill="none" opacity="0.75"/>
<path d="M678.3 502.0L682.1 517.7" stroke="#3f8f2e" stroke-width="5.4" stroke-linecap="round" fill="none"/><path d="M678.3 502.0L682.1 517.7" stroke="#5db446" stroke-width="4.10" stroke-linecap="round" fill="none"/><path d="M678.3 502.0L682.1 517.7" stroke="#9adf7c" stroke-width="1.62" stroke-linecap="round" fill="none" opacity="0.75"/>
<text transform="translate(691.0,338.1) scale(1,1.07)" font-size="12.9" text-anchor="middle" style="stroke:#111;stroke-width:0.4px">L9Y</text>
<text transform="translate(712.7,547.3) scale(1,1.07)" font-size="12.9" text-anchor="middle" style="stroke:#111;stroke-width:0.4px">S19H</text>
</g>
</svg></body></html>
